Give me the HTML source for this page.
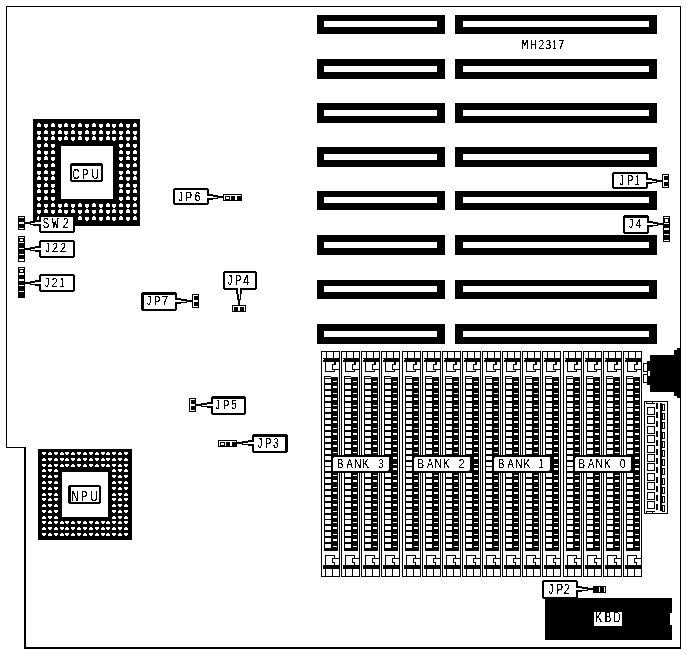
<!DOCTYPE html>
<html><head><meta charset="utf-8"><style>
html,body{margin:0;padding:0;background:#fff;}
body{width:686px;height:654px;overflow:hidden;}
svg{display:block;}
</style></head><body>
<svg width="686" height="654" viewBox="0 0 686 654" shape-rendering="crispEdges">
<defs><filter id="bin" x="-10%" y="-10%" width="120%" height="120%" color-interpolation-filters="sRGB"><feComponentTransfer><feFuncA type="discrete" tableValues="0 0 1 1 1"/></feComponentTransfer></filter></defs>
<rect width="686" height="654" fill="#fff"/>
<rect x="6" y="6" width="675" height="1" fill="#000"/>
<rect x="6" y="6" width="1" height="442" fill="#000"/>
<rect x="6" y="447" width="20" height="1" fill="#000"/>
<rect x="24" y="447" width="2" height="202" fill="#000"/>
<rect x="24" y="647" width="657" height="2" fill="#000"/>
<rect x="680" y="6" width="1" height="643" fill="#000"/>
<rect x="317" y="15" width="128" height="19" fill="#000"/>
<rect x="324" y="21" width="113" height="6" fill="#fff"/>
<rect x="455" y="15" width="202" height="19" fill="#000"/>
<rect x="463" y="21" width="186" height="6" fill="#fff"/>
<rect x="317" y="59" width="128" height="20" fill="#000"/>
<rect x="324" y="66" width="113" height="6" fill="#fff"/>
<rect x="455" y="59" width="202" height="20" fill="#000"/>
<rect x="463" y="66" width="186" height="6" fill="#fff"/>
<rect x="317" y="103" width="128" height="20" fill="#000"/>
<rect x="324" y="110" width="113" height="6" fill="#fff"/>
<rect x="455" y="103" width="202" height="20" fill="#000"/>
<rect x="463" y="110" width="186" height="6" fill="#fff"/>
<rect x="317" y="147" width="128" height="20" fill="#000"/>
<rect x="324" y="154" width="113" height="6" fill="#fff"/>
<rect x="455" y="147" width="202" height="20" fill="#000"/>
<rect x="463" y="154" width="186" height="6" fill="#fff"/>
<rect x="317" y="191" width="128" height="19" fill="#000"/>
<rect x="324" y="197" width="113" height="6" fill="#fff"/>
<rect x="455" y="191" width="202" height="19" fill="#000"/>
<rect x="463" y="197" width="186" height="6" fill="#fff"/>
<rect x="317" y="235" width="128" height="20" fill="#000"/>
<rect x="324" y="242" width="113" height="6" fill="#fff"/>
<rect x="455" y="235" width="202" height="20" fill="#000"/>
<rect x="463" y="242" width="186" height="6" fill="#fff"/>
<rect x="317" y="280" width="128" height="19" fill="#000"/>
<rect x="324" y="286" width="113" height="6" fill="#fff"/>
<rect x="455" y="280" width="202" height="19" fill="#000"/>
<rect x="463" y="286" width="186" height="6" fill="#fff"/>
<rect x="317" y="324" width="128" height="20" fill="#000"/>
<rect x="324" y="331" width="113" height="6" fill="#fff"/>
<rect x="455" y="324" width="202" height="20" fill="#000"/>
<rect x="463" y="331" width="186" height="6" fill="#fff"/>
<rect x="321" y="351" width="1" height="226" fill="#000"/>
<rect x="339" y="351" width="1" height="226" fill="#000"/>
<rect x="321" y="351" width="19" height="1" fill="#000"/>
<rect x="321" y="576" width="19" height="1" fill="#000"/>
<rect x="326" y="352" width="1" height="6" fill="#000"/>
<rect x="333" y="352" width="1" height="6" fill="#000"/>
<rect x="323" y="358" width="16" height="4" fill="#000"/>
<rect x="323" y="359" width="1" height="1" fill="#fff"/>
<rect x="325" y="362" width="1" height="10" fill="#000"/>
<rect x="325" y="371" width="10" height="1" fill="#000"/>
<rect x="334" y="362" width="2" height="3" fill="#000"/>
<rect x="332" y="364" width="4" height="1" fill="#000"/>
<rect x="332" y="364" width="1" height="6" fill="#000"/>
<rect x="332" y="369" width="7" height="1" fill="#000"/>
<rect x="334" y="369" width="1" height="3" fill="#000"/>
<rect x="325" y="555" width="1" height="10" fill="#000"/>
<rect x="325" y="555" width="10" height="1" fill="#000"/>
<rect x="334" y="555" width="1" height="3" fill="#000"/>
<rect x="332" y="558" width="7" height="1" fill="#000"/>
<rect x="332" y="558" width="1" height="5" fill="#000"/>
<rect x="332" y="562" width="3" height="1" fill="#000"/>
<rect x="334" y="562" width="1" height="3" fill="#000"/>
<rect x="323" y="565" width="16" height="4" fill="#000"/>
<rect x="325" y="569" width="1" height="7" fill="#000"/>
<rect x="332" y="569" width="1" height="7" fill="#000"/>
<rect x="324" y="376" width="14" height="175" fill="#000"/>
<rect x="325" y="377" width="6" height="1" fill="#fff"/>
<rect x="325" y="379" width="6" height="4" fill="#fff"/>
<rect x="333" y="381" width="4" height="1" fill="#fff"/>
<rect x="325" y="385" width="6" height="4" fill="#fff"/>
<rect x="333" y="386" width="4" height="2" fill="#fff"/>
<rect x="325" y="391" width="6" height="4" fill="#fff"/>
<rect x="333" y="393" width="4" height="1" fill="#fff"/>
<rect x="325" y="397" width="6" height="4" fill="#fff"/>
<rect x="333" y="398" width="4" height="2" fill="#fff"/>
<rect x="325" y="403" width="6" height="4" fill="#fff"/>
<rect x="333" y="405" width="4" height="1" fill="#fff"/>
<rect x="325" y="408" width="6" height="4" fill="#fff"/>
<rect x="333" y="409" width="4" height="2" fill="#fff"/>
<rect x="325" y="414" width="6" height="4" fill="#fff"/>
<rect x="333" y="416" width="4" height="1" fill="#fff"/>
<rect x="325" y="420" width="6" height="4" fill="#fff"/>
<rect x="333" y="421" width="4" height="2" fill="#fff"/>
<rect x="325" y="426" width="6" height="4" fill="#fff"/>
<rect x="333" y="428" width="4" height="1" fill="#fff"/>
<rect x="325" y="432" width="6" height="4" fill="#fff"/>
<rect x="333" y="433" width="4" height="2" fill="#fff"/>
<rect x="325" y="438" width="6" height="4" fill="#fff"/>
<rect x="333" y="440" width="4" height="1" fill="#fff"/>
<rect x="325" y="444" width="6" height="4" fill="#fff"/>
<rect x="333" y="445" width="4" height="2" fill="#fff"/>
<rect x="325" y="450" width="6" height="4" fill="#fff"/>
<rect x="333" y="452" width="4" height="1" fill="#fff"/>
<rect x="325" y="456" width="6" height="4" fill="#fff"/>
<rect x="333" y="457" width="4" height="2" fill="#fff"/>
<rect x="325" y="462" width="6" height="4" fill="#fff"/>
<rect x="333" y="464" width="4" height="1" fill="#fff"/>
<rect x="325" y="467" width="6" height="4" fill="#fff"/>
<rect x="333" y="468" width="4" height="2" fill="#fff"/>
<rect x="325" y="473" width="6" height="4" fill="#fff"/>
<rect x="333" y="475" width="4" height="1" fill="#fff"/>
<rect x="325" y="479" width="6" height="4" fill="#fff"/>
<rect x="333" y="480" width="4" height="2" fill="#fff"/>
<rect x="325" y="485" width="6" height="4" fill="#fff"/>
<rect x="333" y="487" width="4" height="1" fill="#fff"/>
<rect x="325" y="491" width="6" height="4" fill="#fff"/>
<rect x="333" y="492" width="4" height="2" fill="#fff"/>
<rect x="325" y="497" width="6" height="4" fill="#fff"/>
<rect x="333" y="499" width="4" height="1" fill="#fff"/>
<rect x="325" y="503" width="6" height="4" fill="#fff"/>
<rect x="333" y="504" width="4" height="2" fill="#fff"/>
<rect x="325" y="509" width="6" height="4" fill="#fff"/>
<rect x="333" y="511" width="4" height="1" fill="#fff"/>
<rect x="325" y="515" width="6" height="4" fill="#fff"/>
<rect x="333" y="516" width="4" height="2" fill="#fff"/>
<rect x="325" y="520" width="6" height="4" fill="#fff"/>
<rect x="333" y="522" width="4" height="1" fill="#fff"/>
<rect x="325" y="526" width="6" height="4" fill="#fff"/>
<rect x="333" y="527" width="4" height="2" fill="#fff"/>
<rect x="325" y="532" width="6" height="4" fill="#fff"/>
<rect x="333" y="534" width="4" height="1" fill="#fff"/>
<rect x="325" y="538" width="6" height="4" fill="#fff"/>
<rect x="333" y="539" width="4" height="2" fill="#fff"/>
<rect x="325" y="544" width="6" height="4" fill="#fff"/>
<rect x="333" y="546" width="4" height="1" fill="#fff"/>
<rect x="338" y="376" width="1" height="175" fill="#fff"/>
<rect x="331" y="376" width="7" height="1" fill="#fff"/>
<rect x="341" y="351" width="1" height="226" fill="#000"/>
<rect x="359" y="351" width="1" height="226" fill="#000"/>
<rect x="341" y="351" width="19" height="1" fill="#000"/>
<rect x="341" y="576" width="19" height="1" fill="#000"/>
<rect x="346" y="352" width="1" height="6" fill="#000"/>
<rect x="353" y="352" width="1" height="6" fill="#000"/>
<rect x="343" y="358" width="16" height="4" fill="#000"/>
<rect x="343" y="359" width="1" height="1" fill="#fff"/>
<rect x="345" y="362" width="1" height="10" fill="#000"/>
<rect x="345" y="371" width="10" height="1" fill="#000"/>
<rect x="354" y="362" width="2" height="3" fill="#000"/>
<rect x="352" y="364" width="4" height="1" fill="#000"/>
<rect x="352" y="364" width="1" height="6" fill="#000"/>
<rect x="352" y="369" width="7" height="1" fill="#000"/>
<rect x="354" y="369" width="1" height="3" fill="#000"/>
<rect x="345" y="555" width="1" height="10" fill="#000"/>
<rect x="345" y="555" width="10" height="1" fill="#000"/>
<rect x="354" y="555" width="1" height="3" fill="#000"/>
<rect x="352" y="558" width="7" height="1" fill="#000"/>
<rect x="352" y="558" width="1" height="5" fill="#000"/>
<rect x="352" y="562" width="3" height="1" fill="#000"/>
<rect x="354" y="562" width="1" height="3" fill="#000"/>
<rect x="343" y="565" width="16" height="4" fill="#000"/>
<rect x="345" y="569" width="1" height="7" fill="#000"/>
<rect x="352" y="569" width="1" height="7" fill="#000"/>
<rect x="344" y="376" width="14" height="175" fill="#000"/>
<rect x="345" y="377" width="6" height="1" fill="#fff"/>
<rect x="345" y="379" width="6" height="4" fill="#fff"/>
<rect x="353" y="381" width="4" height="1" fill="#fff"/>
<rect x="345" y="385" width="6" height="4" fill="#fff"/>
<rect x="353" y="386" width="4" height="2" fill="#fff"/>
<rect x="345" y="391" width="6" height="4" fill="#fff"/>
<rect x="353" y="393" width="4" height="1" fill="#fff"/>
<rect x="345" y="397" width="6" height="4" fill="#fff"/>
<rect x="353" y="398" width="4" height="2" fill="#fff"/>
<rect x="345" y="403" width="6" height="4" fill="#fff"/>
<rect x="353" y="405" width="4" height="1" fill="#fff"/>
<rect x="345" y="408" width="6" height="4" fill="#fff"/>
<rect x="353" y="409" width="4" height="2" fill="#fff"/>
<rect x="345" y="414" width="6" height="4" fill="#fff"/>
<rect x="353" y="416" width="4" height="1" fill="#fff"/>
<rect x="345" y="420" width="6" height="4" fill="#fff"/>
<rect x="353" y="421" width="4" height="2" fill="#fff"/>
<rect x="345" y="426" width="6" height="4" fill="#fff"/>
<rect x="353" y="428" width="4" height="1" fill="#fff"/>
<rect x="345" y="432" width="6" height="4" fill="#fff"/>
<rect x="353" y="433" width="4" height="2" fill="#fff"/>
<rect x="345" y="438" width="6" height="4" fill="#fff"/>
<rect x="353" y="440" width="4" height="1" fill="#fff"/>
<rect x="345" y="444" width="6" height="4" fill="#fff"/>
<rect x="353" y="445" width="4" height="2" fill="#fff"/>
<rect x="345" y="450" width="6" height="4" fill="#fff"/>
<rect x="353" y="452" width="4" height="1" fill="#fff"/>
<rect x="345" y="456" width="6" height="4" fill="#fff"/>
<rect x="353" y="457" width="4" height="2" fill="#fff"/>
<rect x="345" y="462" width="6" height="4" fill="#fff"/>
<rect x="353" y="464" width="4" height="1" fill="#fff"/>
<rect x="345" y="467" width="6" height="4" fill="#fff"/>
<rect x="353" y="468" width="4" height="2" fill="#fff"/>
<rect x="345" y="473" width="6" height="4" fill="#fff"/>
<rect x="353" y="475" width="4" height="1" fill="#fff"/>
<rect x="345" y="479" width="6" height="4" fill="#fff"/>
<rect x="353" y="480" width="4" height="2" fill="#fff"/>
<rect x="345" y="485" width="6" height="4" fill="#fff"/>
<rect x="353" y="487" width="4" height="1" fill="#fff"/>
<rect x="345" y="491" width="6" height="4" fill="#fff"/>
<rect x="353" y="492" width="4" height="2" fill="#fff"/>
<rect x="345" y="497" width="6" height="4" fill="#fff"/>
<rect x="353" y="499" width="4" height="1" fill="#fff"/>
<rect x="345" y="503" width="6" height="4" fill="#fff"/>
<rect x="353" y="504" width="4" height="2" fill="#fff"/>
<rect x="345" y="509" width="6" height="4" fill="#fff"/>
<rect x="353" y="511" width="4" height="1" fill="#fff"/>
<rect x="345" y="515" width="6" height="4" fill="#fff"/>
<rect x="353" y="516" width="4" height="2" fill="#fff"/>
<rect x="345" y="520" width="6" height="4" fill="#fff"/>
<rect x="353" y="522" width="4" height="1" fill="#fff"/>
<rect x="345" y="526" width="6" height="4" fill="#fff"/>
<rect x="353" y="527" width="4" height="2" fill="#fff"/>
<rect x="345" y="532" width="6" height="4" fill="#fff"/>
<rect x="353" y="534" width="4" height="1" fill="#fff"/>
<rect x="345" y="538" width="6" height="4" fill="#fff"/>
<rect x="353" y="539" width="4" height="2" fill="#fff"/>
<rect x="345" y="544" width="6" height="4" fill="#fff"/>
<rect x="353" y="546" width="4" height="1" fill="#fff"/>
<rect x="358" y="376" width="1" height="175" fill="#fff"/>
<rect x="351" y="376" width="7" height="1" fill="#fff"/>
<rect x="361" y="351" width="1" height="226" fill="#000"/>
<rect x="379" y="351" width="1" height="226" fill="#000"/>
<rect x="361" y="351" width="19" height="1" fill="#000"/>
<rect x="361" y="576" width="19" height="1" fill="#000"/>
<rect x="366" y="352" width="1" height="6" fill="#000"/>
<rect x="373" y="352" width="1" height="6" fill="#000"/>
<rect x="363" y="358" width="16" height="4" fill="#000"/>
<rect x="363" y="359" width="1" height="1" fill="#fff"/>
<rect x="365" y="362" width="1" height="10" fill="#000"/>
<rect x="365" y="371" width="10" height="1" fill="#000"/>
<rect x="374" y="362" width="2" height="3" fill="#000"/>
<rect x="372" y="364" width="4" height="1" fill="#000"/>
<rect x="372" y="364" width="1" height="6" fill="#000"/>
<rect x="372" y="369" width="7" height="1" fill="#000"/>
<rect x="374" y="369" width="1" height="3" fill="#000"/>
<rect x="365" y="555" width="1" height="10" fill="#000"/>
<rect x="365" y="555" width="10" height="1" fill="#000"/>
<rect x="374" y="555" width="1" height="3" fill="#000"/>
<rect x="372" y="558" width="7" height="1" fill="#000"/>
<rect x="372" y="558" width="1" height="5" fill="#000"/>
<rect x="372" y="562" width="3" height="1" fill="#000"/>
<rect x="374" y="562" width="1" height="3" fill="#000"/>
<rect x="363" y="565" width="16" height="4" fill="#000"/>
<rect x="365" y="569" width="1" height="7" fill="#000"/>
<rect x="372" y="569" width="1" height="7" fill="#000"/>
<rect x="364" y="376" width="14" height="175" fill="#000"/>
<rect x="365" y="377" width="6" height="1" fill="#fff"/>
<rect x="365" y="379" width="6" height="4" fill="#fff"/>
<rect x="373" y="381" width="4" height="1" fill="#fff"/>
<rect x="365" y="385" width="6" height="4" fill="#fff"/>
<rect x="373" y="386" width="4" height="2" fill="#fff"/>
<rect x="365" y="391" width="6" height="4" fill="#fff"/>
<rect x="373" y="393" width="4" height="1" fill="#fff"/>
<rect x="365" y="397" width="6" height="4" fill="#fff"/>
<rect x="373" y="398" width="4" height="2" fill="#fff"/>
<rect x="365" y="403" width="6" height="4" fill="#fff"/>
<rect x="373" y="405" width="4" height="1" fill="#fff"/>
<rect x="365" y="408" width="6" height="4" fill="#fff"/>
<rect x="373" y="409" width="4" height="2" fill="#fff"/>
<rect x="365" y="414" width="6" height="4" fill="#fff"/>
<rect x="373" y="416" width="4" height="1" fill="#fff"/>
<rect x="365" y="420" width="6" height="4" fill="#fff"/>
<rect x="373" y="421" width="4" height="2" fill="#fff"/>
<rect x="365" y="426" width="6" height="4" fill="#fff"/>
<rect x="373" y="428" width="4" height="1" fill="#fff"/>
<rect x="365" y="432" width="6" height="4" fill="#fff"/>
<rect x="373" y="433" width="4" height="2" fill="#fff"/>
<rect x="365" y="438" width="6" height="4" fill="#fff"/>
<rect x="373" y="440" width="4" height="1" fill="#fff"/>
<rect x="365" y="444" width="6" height="4" fill="#fff"/>
<rect x="373" y="445" width="4" height="2" fill="#fff"/>
<rect x="365" y="450" width="6" height="4" fill="#fff"/>
<rect x="373" y="452" width="4" height="1" fill="#fff"/>
<rect x="365" y="456" width="6" height="4" fill="#fff"/>
<rect x="373" y="457" width="4" height="2" fill="#fff"/>
<rect x="365" y="462" width="6" height="4" fill="#fff"/>
<rect x="373" y="464" width="4" height="1" fill="#fff"/>
<rect x="365" y="467" width="6" height="4" fill="#fff"/>
<rect x="373" y="468" width="4" height="2" fill="#fff"/>
<rect x="365" y="473" width="6" height="4" fill="#fff"/>
<rect x="373" y="475" width="4" height="1" fill="#fff"/>
<rect x="365" y="479" width="6" height="4" fill="#fff"/>
<rect x="373" y="480" width="4" height="2" fill="#fff"/>
<rect x="365" y="485" width="6" height="4" fill="#fff"/>
<rect x="373" y="487" width="4" height="1" fill="#fff"/>
<rect x="365" y="491" width="6" height="4" fill="#fff"/>
<rect x="373" y="492" width="4" height="2" fill="#fff"/>
<rect x="365" y="497" width="6" height="4" fill="#fff"/>
<rect x="373" y="499" width="4" height="1" fill="#fff"/>
<rect x="365" y="503" width="6" height="4" fill="#fff"/>
<rect x="373" y="504" width="4" height="2" fill="#fff"/>
<rect x="365" y="509" width="6" height="4" fill="#fff"/>
<rect x="373" y="511" width="4" height="1" fill="#fff"/>
<rect x="365" y="515" width="6" height="4" fill="#fff"/>
<rect x="373" y="516" width="4" height="2" fill="#fff"/>
<rect x="365" y="520" width="6" height="4" fill="#fff"/>
<rect x="373" y="522" width="4" height="1" fill="#fff"/>
<rect x="365" y="526" width="6" height="4" fill="#fff"/>
<rect x="373" y="527" width="4" height="2" fill="#fff"/>
<rect x="365" y="532" width="6" height="4" fill="#fff"/>
<rect x="373" y="534" width="4" height="1" fill="#fff"/>
<rect x="365" y="538" width="6" height="4" fill="#fff"/>
<rect x="373" y="539" width="4" height="2" fill="#fff"/>
<rect x="365" y="544" width="6" height="4" fill="#fff"/>
<rect x="373" y="546" width="4" height="1" fill="#fff"/>
<rect x="378" y="376" width="1" height="175" fill="#fff"/>
<rect x="371" y="376" width="7" height="1" fill="#fff"/>
<rect x="381" y="351" width="1" height="226" fill="#000"/>
<rect x="399" y="351" width="1" height="226" fill="#000"/>
<rect x="381" y="351" width="19" height="1" fill="#000"/>
<rect x="381" y="576" width="19" height="1" fill="#000"/>
<rect x="386" y="352" width="1" height="6" fill="#000"/>
<rect x="393" y="352" width="1" height="6" fill="#000"/>
<rect x="383" y="358" width="16" height="4" fill="#000"/>
<rect x="383" y="359" width="1" height="1" fill="#fff"/>
<rect x="385" y="362" width="1" height="10" fill="#000"/>
<rect x="385" y="371" width="10" height="1" fill="#000"/>
<rect x="394" y="362" width="2" height="3" fill="#000"/>
<rect x="392" y="364" width="4" height="1" fill="#000"/>
<rect x="392" y="364" width="1" height="6" fill="#000"/>
<rect x="392" y="369" width="7" height="1" fill="#000"/>
<rect x="394" y="369" width="1" height="3" fill="#000"/>
<rect x="385" y="555" width="1" height="10" fill="#000"/>
<rect x="385" y="555" width="10" height="1" fill="#000"/>
<rect x="394" y="555" width="1" height="3" fill="#000"/>
<rect x="392" y="558" width="7" height="1" fill="#000"/>
<rect x="392" y="558" width="1" height="5" fill="#000"/>
<rect x="392" y="562" width="3" height="1" fill="#000"/>
<rect x="394" y="562" width="1" height="3" fill="#000"/>
<rect x="383" y="565" width="16" height="4" fill="#000"/>
<rect x="385" y="569" width="1" height="7" fill="#000"/>
<rect x="392" y="569" width="1" height="7" fill="#000"/>
<rect x="384" y="376" width="14" height="175" fill="#000"/>
<rect x="385" y="377" width="6" height="1" fill="#fff"/>
<rect x="385" y="379" width="6" height="4" fill="#fff"/>
<rect x="393" y="381" width="4" height="1" fill="#fff"/>
<rect x="385" y="385" width="6" height="4" fill="#fff"/>
<rect x="393" y="386" width="4" height="2" fill="#fff"/>
<rect x="385" y="391" width="6" height="4" fill="#fff"/>
<rect x="393" y="393" width="4" height="1" fill="#fff"/>
<rect x="385" y="397" width="6" height="4" fill="#fff"/>
<rect x="393" y="398" width="4" height="2" fill="#fff"/>
<rect x="385" y="403" width="6" height="4" fill="#fff"/>
<rect x="393" y="405" width="4" height="1" fill="#fff"/>
<rect x="385" y="408" width="6" height="4" fill="#fff"/>
<rect x="393" y="409" width="4" height="2" fill="#fff"/>
<rect x="385" y="414" width="6" height="4" fill="#fff"/>
<rect x="393" y="416" width="4" height="1" fill="#fff"/>
<rect x="385" y="420" width="6" height="4" fill="#fff"/>
<rect x="393" y="421" width="4" height="2" fill="#fff"/>
<rect x="385" y="426" width="6" height="4" fill="#fff"/>
<rect x="393" y="428" width="4" height="1" fill="#fff"/>
<rect x="385" y="432" width="6" height="4" fill="#fff"/>
<rect x="393" y="433" width="4" height="2" fill="#fff"/>
<rect x="385" y="438" width="6" height="4" fill="#fff"/>
<rect x="393" y="440" width="4" height="1" fill="#fff"/>
<rect x="385" y="444" width="6" height="4" fill="#fff"/>
<rect x="393" y="445" width="4" height="2" fill="#fff"/>
<rect x="385" y="450" width="6" height="4" fill="#fff"/>
<rect x="393" y="452" width="4" height="1" fill="#fff"/>
<rect x="385" y="456" width="6" height="4" fill="#fff"/>
<rect x="393" y="457" width="4" height="2" fill="#fff"/>
<rect x="385" y="462" width="6" height="4" fill="#fff"/>
<rect x="393" y="464" width="4" height="1" fill="#fff"/>
<rect x="385" y="467" width="6" height="4" fill="#fff"/>
<rect x="393" y="468" width="4" height="2" fill="#fff"/>
<rect x="385" y="473" width="6" height="4" fill="#fff"/>
<rect x="393" y="475" width="4" height="1" fill="#fff"/>
<rect x="385" y="479" width="6" height="4" fill="#fff"/>
<rect x="393" y="480" width="4" height="2" fill="#fff"/>
<rect x="385" y="485" width="6" height="4" fill="#fff"/>
<rect x="393" y="487" width="4" height="1" fill="#fff"/>
<rect x="385" y="491" width="6" height="4" fill="#fff"/>
<rect x="393" y="492" width="4" height="2" fill="#fff"/>
<rect x="385" y="497" width="6" height="4" fill="#fff"/>
<rect x="393" y="499" width="4" height="1" fill="#fff"/>
<rect x="385" y="503" width="6" height="4" fill="#fff"/>
<rect x="393" y="504" width="4" height="2" fill="#fff"/>
<rect x="385" y="509" width="6" height="4" fill="#fff"/>
<rect x="393" y="511" width="4" height="1" fill="#fff"/>
<rect x="385" y="515" width="6" height="4" fill="#fff"/>
<rect x="393" y="516" width="4" height="2" fill="#fff"/>
<rect x="385" y="520" width="6" height="4" fill="#fff"/>
<rect x="393" y="522" width="4" height="1" fill="#fff"/>
<rect x="385" y="526" width="6" height="4" fill="#fff"/>
<rect x="393" y="527" width="4" height="2" fill="#fff"/>
<rect x="385" y="532" width="6" height="4" fill="#fff"/>
<rect x="393" y="534" width="4" height="1" fill="#fff"/>
<rect x="385" y="538" width="6" height="4" fill="#fff"/>
<rect x="393" y="539" width="4" height="2" fill="#fff"/>
<rect x="385" y="544" width="6" height="4" fill="#fff"/>
<rect x="393" y="546" width="4" height="1" fill="#fff"/>
<rect x="398" y="376" width="1" height="175" fill="#fff"/>
<rect x="391" y="376" width="7" height="1" fill="#fff"/>
<rect x="402" y="351" width="1" height="226" fill="#000"/>
<rect x="420" y="351" width="1" height="226" fill="#000"/>
<rect x="402" y="351" width="19" height="1" fill="#000"/>
<rect x="402" y="576" width="19" height="1" fill="#000"/>
<rect x="407" y="352" width="1" height="6" fill="#000"/>
<rect x="414" y="352" width="1" height="6" fill="#000"/>
<rect x="404" y="358" width="16" height="4" fill="#000"/>
<rect x="404" y="359" width="1" height="1" fill="#fff"/>
<rect x="406" y="362" width="1" height="10" fill="#000"/>
<rect x="406" y="371" width="10" height="1" fill="#000"/>
<rect x="415" y="362" width="2" height="3" fill="#000"/>
<rect x="413" y="364" width="4" height="1" fill="#000"/>
<rect x="413" y="364" width="1" height="6" fill="#000"/>
<rect x="413" y="369" width="7" height="1" fill="#000"/>
<rect x="415" y="369" width="1" height="3" fill="#000"/>
<rect x="406" y="555" width="1" height="10" fill="#000"/>
<rect x="406" y="555" width="10" height="1" fill="#000"/>
<rect x="415" y="555" width="1" height="3" fill="#000"/>
<rect x="413" y="558" width="7" height="1" fill="#000"/>
<rect x="413" y="558" width="1" height="5" fill="#000"/>
<rect x="413" y="562" width="3" height="1" fill="#000"/>
<rect x="415" y="562" width="1" height="3" fill="#000"/>
<rect x="404" y="565" width="16" height="4" fill="#000"/>
<rect x="406" y="569" width="1" height="7" fill="#000"/>
<rect x="413" y="569" width="1" height="7" fill="#000"/>
<rect x="405" y="376" width="14" height="175" fill="#000"/>
<rect x="406" y="377" width="6" height="1" fill="#fff"/>
<rect x="406" y="379" width="6" height="4" fill="#fff"/>
<rect x="414" y="381" width="4" height="1" fill="#fff"/>
<rect x="406" y="385" width="6" height="4" fill="#fff"/>
<rect x="414" y="386" width="4" height="2" fill="#fff"/>
<rect x="406" y="391" width="6" height="4" fill="#fff"/>
<rect x="414" y="393" width="4" height="1" fill="#fff"/>
<rect x="406" y="397" width="6" height="4" fill="#fff"/>
<rect x="414" y="398" width="4" height="2" fill="#fff"/>
<rect x="406" y="403" width="6" height="4" fill="#fff"/>
<rect x="414" y="405" width="4" height="1" fill="#fff"/>
<rect x="406" y="408" width="6" height="4" fill="#fff"/>
<rect x="414" y="409" width="4" height="2" fill="#fff"/>
<rect x="406" y="414" width="6" height="4" fill="#fff"/>
<rect x="414" y="416" width="4" height="1" fill="#fff"/>
<rect x="406" y="420" width="6" height="4" fill="#fff"/>
<rect x="414" y="421" width="4" height="2" fill="#fff"/>
<rect x="406" y="426" width="6" height="4" fill="#fff"/>
<rect x="414" y="428" width="4" height="1" fill="#fff"/>
<rect x="406" y="432" width="6" height="4" fill="#fff"/>
<rect x="414" y="433" width="4" height="2" fill="#fff"/>
<rect x="406" y="438" width="6" height="4" fill="#fff"/>
<rect x="414" y="440" width="4" height="1" fill="#fff"/>
<rect x="406" y="444" width="6" height="4" fill="#fff"/>
<rect x="414" y="445" width="4" height="2" fill="#fff"/>
<rect x="406" y="450" width="6" height="4" fill="#fff"/>
<rect x="414" y="452" width="4" height="1" fill="#fff"/>
<rect x="406" y="456" width="6" height="4" fill="#fff"/>
<rect x="414" y="457" width="4" height="2" fill="#fff"/>
<rect x="406" y="462" width="6" height="4" fill="#fff"/>
<rect x="414" y="464" width="4" height="1" fill="#fff"/>
<rect x="406" y="467" width="6" height="4" fill="#fff"/>
<rect x="414" y="468" width="4" height="2" fill="#fff"/>
<rect x="406" y="473" width="6" height="4" fill="#fff"/>
<rect x="414" y="475" width="4" height="1" fill="#fff"/>
<rect x="406" y="479" width="6" height="4" fill="#fff"/>
<rect x="414" y="480" width="4" height="2" fill="#fff"/>
<rect x="406" y="485" width="6" height="4" fill="#fff"/>
<rect x="414" y="487" width="4" height="1" fill="#fff"/>
<rect x="406" y="491" width="6" height="4" fill="#fff"/>
<rect x="414" y="492" width="4" height="2" fill="#fff"/>
<rect x="406" y="497" width="6" height="4" fill="#fff"/>
<rect x="414" y="499" width="4" height="1" fill="#fff"/>
<rect x="406" y="503" width="6" height="4" fill="#fff"/>
<rect x="414" y="504" width="4" height="2" fill="#fff"/>
<rect x="406" y="509" width="6" height="4" fill="#fff"/>
<rect x="414" y="511" width="4" height="1" fill="#fff"/>
<rect x="406" y="515" width="6" height="4" fill="#fff"/>
<rect x="414" y="516" width="4" height="2" fill="#fff"/>
<rect x="406" y="520" width="6" height="4" fill="#fff"/>
<rect x="414" y="522" width="4" height="1" fill="#fff"/>
<rect x="406" y="526" width="6" height="4" fill="#fff"/>
<rect x="414" y="527" width="4" height="2" fill="#fff"/>
<rect x="406" y="532" width="6" height="4" fill="#fff"/>
<rect x="414" y="534" width="4" height="1" fill="#fff"/>
<rect x="406" y="538" width="6" height="4" fill="#fff"/>
<rect x="414" y="539" width="4" height="2" fill="#fff"/>
<rect x="406" y="544" width="6" height="4" fill="#fff"/>
<rect x="414" y="546" width="4" height="1" fill="#fff"/>
<rect x="419" y="376" width="1" height="175" fill="#fff"/>
<rect x="412" y="376" width="7" height="1" fill="#fff"/>
<rect x="422" y="351" width="1" height="226" fill="#000"/>
<rect x="440" y="351" width="1" height="226" fill="#000"/>
<rect x="422" y="351" width="19" height="1" fill="#000"/>
<rect x="422" y="576" width="19" height="1" fill="#000"/>
<rect x="427" y="352" width="1" height="6" fill="#000"/>
<rect x="434" y="352" width="1" height="6" fill="#000"/>
<rect x="424" y="358" width="16" height="4" fill="#000"/>
<rect x="424" y="359" width="1" height="1" fill="#fff"/>
<rect x="426" y="362" width="1" height="10" fill="#000"/>
<rect x="426" y="371" width="10" height="1" fill="#000"/>
<rect x="435" y="362" width="2" height="3" fill="#000"/>
<rect x="433" y="364" width="4" height="1" fill="#000"/>
<rect x="433" y="364" width="1" height="6" fill="#000"/>
<rect x="433" y="369" width="7" height="1" fill="#000"/>
<rect x="435" y="369" width="1" height="3" fill="#000"/>
<rect x="426" y="555" width="1" height="10" fill="#000"/>
<rect x="426" y="555" width="10" height="1" fill="#000"/>
<rect x="435" y="555" width="1" height="3" fill="#000"/>
<rect x="433" y="558" width="7" height="1" fill="#000"/>
<rect x="433" y="558" width="1" height="5" fill="#000"/>
<rect x="433" y="562" width="3" height="1" fill="#000"/>
<rect x="435" y="562" width="1" height="3" fill="#000"/>
<rect x="424" y="565" width="16" height="4" fill="#000"/>
<rect x="426" y="569" width="1" height="7" fill="#000"/>
<rect x="433" y="569" width="1" height="7" fill="#000"/>
<rect x="425" y="376" width="14" height="175" fill="#000"/>
<rect x="426" y="377" width="6" height="1" fill="#fff"/>
<rect x="426" y="379" width="6" height="4" fill="#fff"/>
<rect x="434" y="381" width="4" height="1" fill="#fff"/>
<rect x="426" y="385" width="6" height="4" fill="#fff"/>
<rect x="434" y="386" width="4" height="2" fill="#fff"/>
<rect x="426" y="391" width="6" height="4" fill="#fff"/>
<rect x="434" y="393" width="4" height="1" fill="#fff"/>
<rect x="426" y="397" width="6" height="4" fill="#fff"/>
<rect x="434" y="398" width="4" height="2" fill="#fff"/>
<rect x="426" y="403" width="6" height="4" fill="#fff"/>
<rect x="434" y="405" width="4" height="1" fill="#fff"/>
<rect x="426" y="408" width="6" height="4" fill="#fff"/>
<rect x="434" y="409" width="4" height="2" fill="#fff"/>
<rect x="426" y="414" width="6" height="4" fill="#fff"/>
<rect x="434" y="416" width="4" height="1" fill="#fff"/>
<rect x="426" y="420" width="6" height="4" fill="#fff"/>
<rect x="434" y="421" width="4" height="2" fill="#fff"/>
<rect x="426" y="426" width="6" height="4" fill="#fff"/>
<rect x="434" y="428" width="4" height="1" fill="#fff"/>
<rect x="426" y="432" width="6" height="4" fill="#fff"/>
<rect x="434" y="433" width="4" height="2" fill="#fff"/>
<rect x="426" y="438" width="6" height="4" fill="#fff"/>
<rect x="434" y="440" width="4" height="1" fill="#fff"/>
<rect x="426" y="444" width="6" height="4" fill="#fff"/>
<rect x="434" y="445" width="4" height="2" fill="#fff"/>
<rect x="426" y="450" width="6" height="4" fill="#fff"/>
<rect x="434" y="452" width="4" height="1" fill="#fff"/>
<rect x="426" y="456" width="6" height="4" fill="#fff"/>
<rect x="434" y="457" width="4" height="2" fill="#fff"/>
<rect x="426" y="462" width="6" height="4" fill="#fff"/>
<rect x="434" y="464" width="4" height="1" fill="#fff"/>
<rect x="426" y="467" width="6" height="4" fill="#fff"/>
<rect x="434" y="468" width="4" height="2" fill="#fff"/>
<rect x="426" y="473" width="6" height="4" fill="#fff"/>
<rect x="434" y="475" width="4" height="1" fill="#fff"/>
<rect x="426" y="479" width="6" height="4" fill="#fff"/>
<rect x="434" y="480" width="4" height="2" fill="#fff"/>
<rect x="426" y="485" width="6" height="4" fill="#fff"/>
<rect x="434" y="487" width="4" height="1" fill="#fff"/>
<rect x="426" y="491" width="6" height="4" fill="#fff"/>
<rect x="434" y="492" width="4" height="2" fill="#fff"/>
<rect x="426" y="497" width="6" height="4" fill="#fff"/>
<rect x="434" y="499" width="4" height="1" fill="#fff"/>
<rect x="426" y="503" width="6" height="4" fill="#fff"/>
<rect x="434" y="504" width="4" height="2" fill="#fff"/>
<rect x="426" y="509" width="6" height="4" fill="#fff"/>
<rect x="434" y="511" width="4" height="1" fill="#fff"/>
<rect x="426" y="515" width="6" height="4" fill="#fff"/>
<rect x="434" y="516" width="4" height="2" fill="#fff"/>
<rect x="426" y="520" width="6" height="4" fill="#fff"/>
<rect x="434" y="522" width="4" height="1" fill="#fff"/>
<rect x="426" y="526" width="6" height="4" fill="#fff"/>
<rect x="434" y="527" width="4" height="2" fill="#fff"/>
<rect x="426" y="532" width="6" height="4" fill="#fff"/>
<rect x="434" y="534" width="4" height="1" fill="#fff"/>
<rect x="426" y="538" width="6" height="4" fill="#fff"/>
<rect x="434" y="539" width="4" height="2" fill="#fff"/>
<rect x="426" y="544" width="6" height="4" fill="#fff"/>
<rect x="434" y="546" width="4" height="1" fill="#fff"/>
<rect x="439" y="376" width="1" height="175" fill="#fff"/>
<rect x="432" y="376" width="7" height="1" fill="#fff"/>
<rect x="442" y="351" width="1" height="226" fill="#000"/>
<rect x="460" y="351" width="1" height="226" fill="#000"/>
<rect x="442" y="351" width="19" height="1" fill="#000"/>
<rect x="442" y="576" width="19" height="1" fill="#000"/>
<rect x="447" y="352" width="1" height="6" fill="#000"/>
<rect x="454" y="352" width="1" height="6" fill="#000"/>
<rect x="444" y="358" width="16" height="4" fill="#000"/>
<rect x="444" y="359" width="1" height="1" fill="#fff"/>
<rect x="446" y="362" width="1" height="10" fill="#000"/>
<rect x="446" y="371" width="10" height="1" fill="#000"/>
<rect x="455" y="362" width="2" height="3" fill="#000"/>
<rect x="453" y="364" width="4" height="1" fill="#000"/>
<rect x="453" y="364" width="1" height="6" fill="#000"/>
<rect x="453" y="369" width="7" height="1" fill="#000"/>
<rect x="455" y="369" width="1" height="3" fill="#000"/>
<rect x="446" y="555" width="1" height="10" fill="#000"/>
<rect x="446" y="555" width="10" height="1" fill="#000"/>
<rect x="455" y="555" width="1" height="3" fill="#000"/>
<rect x="453" y="558" width="7" height="1" fill="#000"/>
<rect x="453" y="558" width="1" height="5" fill="#000"/>
<rect x="453" y="562" width="3" height="1" fill="#000"/>
<rect x="455" y="562" width="1" height="3" fill="#000"/>
<rect x="444" y="565" width="16" height="4" fill="#000"/>
<rect x="446" y="569" width="1" height="7" fill="#000"/>
<rect x="453" y="569" width="1" height="7" fill="#000"/>
<rect x="445" y="376" width="14" height="175" fill="#000"/>
<rect x="446" y="377" width="6" height="1" fill="#fff"/>
<rect x="446" y="379" width="6" height="4" fill="#fff"/>
<rect x="454" y="381" width="4" height="1" fill="#fff"/>
<rect x="446" y="385" width="6" height="4" fill="#fff"/>
<rect x="454" y="386" width="4" height="2" fill="#fff"/>
<rect x="446" y="391" width="6" height="4" fill="#fff"/>
<rect x="454" y="393" width="4" height="1" fill="#fff"/>
<rect x="446" y="397" width="6" height="4" fill="#fff"/>
<rect x="454" y="398" width="4" height="2" fill="#fff"/>
<rect x="446" y="403" width="6" height="4" fill="#fff"/>
<rect x="454" y="405" width="4" height="1" fill="#fff"/>
<rect x="446" y="408" width="6" height="4" fill="#fff"/>
<rect x="454" y="409" width="4" height="2" fill="#fff"/>
<rect x="446" y="414" width="6" height="4" fill="#fff"/>
<rect x="454" y="416" width="4" height="1" fill="#fff"/>
<rect x="446" y="420" width="6" height="4" fill="#fff"/>
<rect x="454" y="421" width="4" height="2" fill="#fff"/>
<rect x="446" y="426" width="6" height="4" fill="#fff"/>
<rect x="454" y="428" width="4" height="1" fill="#fff"/>
<rect x="446" y="432" width="6" height="4" fill="#fff"/>
<rect x="454" y="433" width="4" height="2" fill="#fff"/>
<rect x="446" y="438" width="6" height="4" fill="#fff"/>
<rect x="454" y="440" width="4" height="1" fill="#fff"/>
<rect x="446" y="444" width="6" height="4" fill="#fff"/>
<rect x="454" y="445" width="4" height="2" fill="#fff"/>
<rect x="446" y="450" width="6" height="4" fill="#fff"/>
<rect x="454" y="452" width="4" height="1" fill="#fff"/>
<rect x="446" y="456" width="6" height="4" fill="#fff"/>
<rect x="454" y="457" width="4" height="2" fill="#fff"/>
<rect x="446" y="462" width="6" height="4" fill="#fff"/>
<rect x="454" y="464" width="4" height="1" fill="#fff"/>
<rect x="446" y="467" width="6" height="4" fill="#fff"/>
<rect x="454" y="468" width="4" height="2" fill="#fff"/>
<rect x="446" y="473" width="6" height="4" fill="#fff"/>
<rect x="454" y="475" width="4" height="1" fill="#fff"/>
<rect x="446" y="479" width="6" height="4" fill="#fff"/>
<rect x="454" y="480" width="4" height="2" fill="#fff"/>
<rect x="446" y="485" width="6" height="4" fill="#fff"/>
<rect x="454" y="487" width="4" height="1" fill="#fff"/>
<rect x="446" y="491" width="6" height="4" fill="#fff"/>
<rect x="454" y="492" width="4" height="2" fill="#fff"/>
<rect x="446" y="497" width="6" height="4" fill="#fff"/>
<rect x="454" y="499" width="4" height="1" fill="#fff"/>
<rect x="446" y="503" width="6" height="4" fill="#fff"/>
<rect x="454" y="504" width="4" height="2" fill="#fff"/>
<rect x="446" y="509" width="6" height="4" fill="#fff"/>
<rect x="454" y="511" width="4" height="1" fill="#fff"/>
<rect x="446" y="515" width="6" height="4" fill="#fff"/>
<rect x="454" y="516" width="4" height="2" fill="#fff"/>
<rect x="446" y="520" width="6" height="4" fill="#fff"/>
<rect x="454" y="522" width="4" height="1" fill="#fff"/>
<rect x="446" y="526" width="6" height="4" fill="#fff"/>
<rect x="454" y="527" width="4" height="2" fill="#fff"/>
<rect x="446" y="532" width="6" height="4" fill="#fff"/>
<rect x="454" y="534" width="4" height="1" fill="#fff"/>
<rect x="446" y="538" width="6" height="4" fill="#fff"/>
<rect x="454" y="539" width="4" height="2" fill="#fff"/>
<rect x="446" y="544" width="6" height="4" fill="#fff"/>
<rect x="454" y="546" width="4" height="1" fill="#fff"/>
<rect x="459" y="376" width="1" height="175" fill="#fff"/>
<rect x="452" y="376" width="7" height="1" fill="#fff"/>
<rect x="462" y="351" width="1" height="226" fill="#000"/>
<rect x="480" y="351" width="1" height="226" fill="#000"/>
<rect x="462" y="351" width="19" height="1" fill="#000"/>
<rect x="462" y="576" width="19" height="1" fill="#000"/>
<rect x="467" y="352" width="1" height="6" fill="#000"/>
<rect x="474" y="352" width="1" height="6" fill="#000"/>
<rect x="464" y="358" width="16" height="4" fill="#000"/>
<rect x="464" y="359" width="1" height="1" fill="#fff"/>
<rect x="466" y="362" width="1" height="10" fill="#000"/>
<rect x="466" y="371" width="10" height="1" fill="#000"/>
<rect x="475" y="362" width="2" height="3" fill="#000"/>
<rect x="473" y="364" width="4" height="1" fill="#000"/>
<rect x="473" y="364" width="1" height="6" fill="#000"/>
<rect x="473" y="369" width="7" height="1" fill="#000"/>
<rect x="475" y="369" width="1" height="3" fill="#000"/>
<rect x="466" y="555" width="1" height="10" fill="#000"/>
<rect x="466" y="555" width="10" height="1" fill="#000"/>
<rect x="475" y="555" width="1" height="3" fill="#000"/>
<rect x="473" y="558" width="7" height="1" fill="#000"/>
<rect x="473" y="558" width="1" height="5" fill="#000"/>
<rect x="473" y="562" width="3" height="1" fill="#000"/>
<rect x="475" y="562" width="1" height="3" fill="#000"/>
<rect x="464" y="565" width="16" height="4" fill="#000"/>
<rect x="466" y="569" width="1" height="7" fill="#000"/>
<rect x="473" y="569" width="1" height="7" fill="#000"/>
<rect x="465" y="376" width="14" height="175" fill="#000"/>
<rect x="466" y="377" width="6" height="1" fill="#fff"/>
<rect x="466" y="379" width="6" height="4" fill="#fff"/>
<rect x="474" y="381" width="4" height="1" fill="#fff"/>
<rect x="466" y="385" width="6" height="4" fill="#fff"/>
<rect x="474" y="386" width="4" height="2" fill="#fff"/>
<rect x="466" y="391" width="6" height="4" fill="#fff"/>
<rect x="474" y="393" width="4" height="1" fill="#fff"/>
<rect x="466" y="397" width="6" height="4" fill="#fff"/>
<rect x="474" y="398" width="4" height="2" fill="#fff"/>
<rect x="466" y="403" width="6" height="4" fill="#fff"/>
<rect x="474" y="405" width="4" height="1" fill="#fff"/>
<rect x="466" y="408" width="6" height="4" fill="#fff"/>
<rect x="474" y="409" width="4" height="2" fill="#fff"/>
<rect x="466" y="414" width="6" height="4" fill="#fff"/>
<rect x="474" y="416" width="4" height="1" fill="#fff"/>
<rect x="466" y="420" width="6" height="4" fill="#fff"/>
<rect x="474" y="421" width="4" height="2" fill="#fff"/>
<rect x="466" y="426" width="6" height="4" fill="#fff"/>
<rect x="474" y="428" width="4" height="1" fill="#fff"/>
<rect x="466" y="432" width="6" height="4" fill="#fff"/>
<rect x="474" y="433" width="4" height="2" fill="#fff"/>
<rect x="466" y="438" width="6" height="4" fill="#fff"/>
<rect x="474" y="440" width="4" height="1" fill="#fff"/>
<rect x="466" y="444" width="6" height="4" fill="#fff"/>
<rect x="474" y="445" width="4" height="2" fill="#fff"/>
<rect x="466" y="450" width="6" height="4" fill="#fff"/>
<rect x="474" y="452" width="4" height="1" fill="#fff"/>
<rect x="466" y="456" width="6" height="4" fill="#fff"/>
<rect x="474" y="457" width="4" height="2" fill="#fff"/>
<rect x="466" y="462" width="6" height="4" fill="#fff"/>
<rect x="474" y="464" width="4" height="1" fill="#fff"/>
<rect x="466" y="467" width="6" height="4" fill="#fff"/>
<rect x="474" y="468" width="4" height="2" fill="#fff"/>
<rect x="466" y="473" width="6" height="4" fill="#fff"/>
<rect x="474" y="475" width="4" height="1" fill="#fff"/>
<rect x="466" y="479" width="6" height="4" fill="#fff"/>
<rect x="474" y="480" width="4" height="2" fill="#fff"/>
<rect x="466" y="485" width="6" height="4" fill="#fff"/>
<rect x="474" y="487" width="4" height="1" fill="#fff"/>
<rect x="466" y="491" width="6" height="4" fill="#fff"/>
<rect x="474" y="492" width="4" height="2" fill="#fff"/>
<rect x="466" y="497" width="6" height="4" fill="#fff"/>
<rect x="474" y="499" width="4" height="1" fill="#fff"/>
<rect x="466" y="503" width="6" height="4" fill="#fff"/>
<rect x="474" y="504" width="4" height="2" fill="#fff"/>
<rect x="466" y="509" width="6" height="4" fill="#fff"/>
<rect x="474" y="511" width="4" height="1" fill="#fff"/>
<rect x="466" y="515" width="6" height="4" fill="#fff"/>
<rect x="474" y="516" width="4" height="2" fill="#fff"/>
<rect x="466" y="520" width="6" height="4" fill="#fff"/>
<rect x="474" y="522" width="4" height="1" fill="#fff"/>
<rect x="466" y="526" width="6" height="4" fill="#fff"/>
<rect x="474" y="527" width="4" height="2" fill="#fff"/>
<rect x="466" y="532" width="6" height="4" fill="#fff"/>
<rect x="474" y="534" width="4" height="1" fill="#fff"/>
<rect x="466" y="538" width="6" height="4" fill="#fff"/>
<rect x="474" y="539" width="4" height="2" fill="#fff"/>
<rect x="466" y="544" width="6" height="4" fill="#fff"/>
<rect x="474" y="546" width="4" height="1" fill="#fff"/>
<rect x="479" y="376" width="1" height="175" fill="#fff"/>
<rect x="472" y="376" width="7" height="1" fill="#fff"/>
<rect x="482" y="351" width="1" height="226" fill="#000"/>
<rect x="500" y="351" width="1" height="226" fill="#000"/>
<rect x="482" y="351" width="19" height="1" fill="#000"/>
<rect x="482" y="576" width="19" height="1" fill="#000"/>
<rect x="487" y="352" width="1" height="6" fill="#000"/>
<rect x="494" y="352" width="1" height="6" fill="#000"/>
<rect x="484" y="358" width="16" height="4" fill="#000"/>
<rect x="484" y="359" width="1" height="1" fill="#fff"/>
<rect x="486" y="362" width="1" height="10" fill="#000"/>
<rect x="486" y="371" width="10" height="1" fill="#000"/>
<rect x="495" y="362" width="2" height="3" fill="#000"/>
<rect x="493" y="364" width="4" height="1" fill="#000"/>
<rect x="493" y="364" width="1" height="6" fill="#000"/>
<rect x="493" y="369" width="7" height="1" fill="#000"/>
<rect x="495" y="369" width="1" height="3" fill="#000"/>
<rect x="486" y="555" width="1" height="10" fill="#000"/>
<rect x="486" y="555" width="10" height="1" fill="#000"/>
<rect x="495" y="555" width="1" height="3" fill="#000"/>
<rect x="493" y="558" width="7" height="1" fill="#000"/>
<rect x="493" y="558" width="1" height="5" fill="#000"/>
<rect x="493" y="562" width="3" height="1" fill="#000"/>
<rect x="495" y="562" width="1" height="3" fill="#000"/>
<rect x="484" y="565" width="16" height="4" fill="#000"/>
<rect x="486" y="569" width="1" height="7" fill="#000"/>
<rect x="493" y="569" width="1" height="7" fill="#000"/>
<rect x="485" y="376" width="14" height="175" fill="#000"/>
<rect x="486" y="377" width="6" height="1" fill="#fff"/>
<rect x="486" y="379" width="6" height="4" fill="#fff"/>
<rect x="494" y="381" width="4" height="1" fill="#fff"/>
<rect x="486" y="385" width="6" height="4" fill="#fff"/>
<rect x="494" y="386" width="4" height="2" fill="#fff"/>
<rect x="486" y="391" width="6" height="4" fill="#fff"/>
<rect x="494" y="393" width="4" height="1" fill="#fff"/>
<rect x="486" y="397" width="6" height="4" fill="#fff"/>
<rect x="494" y="398" width="4" height="2" fill="#fff"/>
<rect x="486" y="403" width="6" height="4" fill="#fff"/>
<rect x="494" y="405" width="4" height="1" fill="#fff"/>
<rect x="486" y="408" width="6" height="4" fill="#fff"/>
<rect x="494" y="409" width="4" height="2" fill="#fff"/>
<rect x="486" y="414" width="6" height="4" fill="#fff"/>
<rect x="494" y="416" width="4" height="1" fill="#fff"/>
<rect x="486" y="420" width="6" height="4" fill="#fff"/>
<rect x="494" y="421" width="4" height="2" fill="#fff"/>
<rect x="486" y="426" width="6" height="4" fill="#fff"/>
<rect x="494" y="428" width="4" height="1" fill="#fff"/>
<rect x="486" y="432" width="6" height="4" fill="#fff"/>
<rect x="494" y="433" width="4" height="2" fill="#fff"/>
<rect x="486" y="438" width="6" height="4" fill="#fff"/>
<rect x="494" y="440" width="4" height="1" fill="#fff"/>
<rect x="486" y="444" width="6" height="4" fill="#fff"/>
<rect x="494" y="445" width="4" height="2" fill="#fff"/>
<rect x="486" y="450" width="6" height="4" fill="#fff"/>
<rect x="494" y="452" width="4" height="1" fill="#fff"/>
<rect x="486" y="456" width="6" height="4" fill="#fff"/>
<rect x="494" y="457" width="4" height="2" fill="#fff"/>
<rect x="486" y="462" width="6" height="4" fill="#fff"/>
<rect x="494" y="464" width="4" height="1" fill="#fff"/>
<rect x="486" y="467" width="6" height="4" fill="#fff"/>
<rect x="494" y="468" width="4" height="2" fill="#fff"/>
<rect x="486" y="473" width="6" height="4" fill="#fff"/>
<rect x="494" y="475" width="4" height="1" fill="#fff"/>
<rect x="486" y="479" width="6" height="4" fill="#fff"/>
<rect x="494" y="480" width="4" height="2" fill="#fff"/>
<rect x="486" y="485" width="6" height="4" fill="#fff"/>
<rect x="494" y="487" width="4" height="1" fill="#fff"/>
<rect x="486" y="491" width="6" height="4" fill="#fff"/>
<rect x="494" y="492" width="4" height="2" fill="#fff"/>
<rect x="486" y="497" width="6" height="4" fill="#fff"/>
<rect x="494" y="499" width="4" height="1" fill="#fff"/>
<rect x="486" y="503" width="6" height="4" fill="#fff"/>
<rect x="494" y="504" width="4" height="2" fill="#fff"/>
<rect x="486" y="509" width="6" height="4" fill="#fff"/>
<rect x="494" y="511" width="4" height="1" fill="#fff"/>
<rect x="486" y="515" width="6" height="4" fill="#fff"/>
<rect x="494" y="516" width="4" height="2" fill="#fff"/>
<rect x="486" y="520" width="6" height="4" fill="#fff"/>
<rect x="494" y="522" width="4" height="1" fill="#fff"/>
<rect x="486" y="526" width="6" height="4" fill="#fff"/>
<rect x="494" y="527" width="4" height="2" fill="#fff"/>
<rect x="486" y="532" width="6" height="4" fill="#fff"/>
<rect x="494" y="534" width="4" height="1" fill="#fff"/>
<rect x="486" y="538" width="6" height="4" fill="#fff"/>
<rect x="494" y="539" width="4" height="2" fill="#fff"/>
<rect x="486" y="544" width="6" height="4" fill="#fff"/>
<rect x="494" y="546" width="4" height="1" fill="#fff"/>
<rect x="499" y="376" width="1" height="175" fill="#fff"/>
<rect x="492" y="376" width="7" height="1" fill="#fff"/>
<rect x="502" y="351" width="1" height="226" fill="#000"/>
<rect x="520" y="351" width="1" height="226" fill="#000"/>
<rect x="502" y="351" width="19" height="1" fill="#000"/>
<rect x="502" y="576" width="19" height="1" fill="#000"/>
<rect x="507" y="352" width="1" height="6" fill="#000"/>
<rect x="514" y="352" width="1" height="6" fill="#000"/>
<rect x="504" y="358" width="16" height="4" fill="#000"/>
<rect x="504" y="359" width="1" height="1" fill="#fff"/>
<rect x="506" y="362" width="1" height="10" fill="#000"/>
<rect x="506" y="371" width="10" height="1" fill="#000"/>
<rect x="515" y="362" width="2" height="3" fill="#000"/>
<rect x="513" y="364" width="4" height="1" fill="#000"/>
<rect x="513" y="364" width="1" height="6" fill="#000"/>
<rect x="513" y="369" width="7" height="1" fill="#000"/>
<rect x="515" y="369" width="1" height="3" fill="#000"/>
<rect x="506" y="555" width="1" height="10" fill="#000"/>
<rect x="506" y="555" width="10" height="1" fill="#000"/>
<rect x="515" y="555" width="1" height="3" fill="#000"/>
<rect x="513" y="558" width="7" height="1" fill="#000"/>
<rect x="513" y="558" width="1" height="5" fill="#000"/>
<rect x="513" y="562" width="3" height="1" fill="#000"/>
<rect x="515" y="562" width="1" height="3" fill="#000"/>
<rect x="504" y="565" width="16" height="4" fill="#000"/>
<rect x="506" y="569" width="1" height="7" fill="#000"/>
<rect x="513" y="569" width="1" height="7" fill="#000"/>
<rect x="505" y="376" width="14" height="175" fill="#000"/>
<rect x="506" y="377" width="6" height="1" fill="#fff"/>
<rect x="506" y="379" width="6" height="4" fill="#fff"/>
<rect x="514" y="381" width="4" height="1" fill="#fff"/>
<rect x="506" y="385" width="6" height="4" fill="#fff"/>
<rect x="514" y="386" width="4" height="2" fill="#fff"/>
<rect x="506" y="391" width="6" height="4" fill="#fff"/>
<rect x="514" y="393" width="4" height="1" fill="#fff"/>
<rect x="506" y="397" width="6" height="4" fill="#fff"/>
<rect x="514" y="398" width="4" height="2" fill="#fff"/>
<rect x="506" y="403" width="6" height="4" fill="#fff"/>
<rect x="514" y="405" width="4" height="1" fill="#fff"/>
<rect x="506" y="408" width="6" height="4" fill="#fff"/>
<rect x="514" y="409" width="4" height="2" fill="#fff"/>
<rect x="506" y="414" width="6" height="4" fill="#fff"/>
<rect x="514" y="416" width="4" height="1" fill="#fff"/>
<rect x="506" y="420" width="6" height="4" fill="#fff"/>
<rect x="514" y="421" width="4" height="2" fill="#fff"/>
<rect x="506" y="426" width="6" height="4" fill="#fff"/>
<rect x="514" y="428" width="4" height="1" fill="#fff"/>
<rect x="506" y="432" width="6" height="4" fill="#fff"/>
<rect x="514" y="433" width="4" height="2" fill="#fff"/>
<rect x="506" y="438" width="6" height="4" fill="#fff"/>
<rect x="514" y="440" width="4" height="1" fill="#fff"/>
<rect x="506" y="444" width="6" height="4" fill="#fff"/>
<rect x="514" y="445" width="4" height="2" fill="#fff"/>
<rect x="506" y="450" width="6" height="4" fill="#fff"/>
<rect x="514" y="452" width="4" height="1" fill="#fff"/>
<rect x="506" y="456" width="6" height="4" fill="#fff"/>
<rect x="514" y="457" width="4" height="2" fill="#fff"/>
<rect x="506" y="462" width="6" height="4" fill="#fff"/>
<rect x="514" y="464" width="4" height="1" fill="#fff"/>
<rect x="506" y="467" width="6" height="4" fill="#fff"/>
<rect x="514" y="468" width="4" height="2" fill="#fff"/>
<rect x="506" y="473" width="6" height="4" fill="#fff"/>
<rect x="514" y="475" width="4" height="1" fill="#fff"/>
<rect x="506" y="479" width="6" height="4" fill="#fff"/>
<rect x="514" y="480" width="4" height="2" fill="#fff"/>
<rect x="506" y="485" width="6" height="4" fill="#fff"/>
<rect x="514" y="487" width="4" height="1" fill="#fff"/>
<rect x="506" y="491" width="6" height="4" fill="#fff"/>
<rect x="514" y="492" width="4" height="2" fill="#fff"/>
<rect x="506" y="497" width="6" height="4" fill="#fff"/>
<rect x="514" y="499" width="4" height="1" fill="#fff"/>
<rect x="506" y="503" width="6" height="4" fill="#fff"/>
<rect x="514" y="504" width="4" height="2" fill="#fff"/>
<rect x="506" y="509" width="6" height="4" fill="#fff"/>
<rect x="514" y="511" width="4" height="1" fill="#fff"/>
<rect x="506" y="515" width="6" height="4" fill="#fff"/>
<rect x="514" y="516" width="4" height="2" fill="#fff"/>
<rect x="506" y="520" width="6" height="4" fill="#fff"/>
<rect x="514" y="522" width="4" height="1" fill="#fff"/>
<rect x="506" y="526" width="6" height="4" fill="#fff"/>
<rect x="514" y="527" width="4" height="2" fill="#fff"/>
<rect x="506" y="532" width="6" height="4" fill="#fff"/>
<rect x="514" y="534" width="4" height="1" fill="#fff"/>
<rect x="506" y="538" width="6" height="4" fill="#fff"/>
<rect x="514" y="539" width="4" height="2" fill="#fff"/>
<rect x="506" y="544" width="6" height="4" fill="#fff"/>
<rect x="514" y="546" width="4" height="1" fill="#fff"/>
<rect x="519" y="376" width="1" height="175" fill="#fff"/>
<rect x="512" y="376" width="7" height="1" fill="#fff"/>
<rect x="522" y="351" width="1" height="226" fill="#000"/>
<rect x="540" y="351" width="1" height="226" fill="#000"/>
<rect x="522" y="351" width="19" height="1" fill="#000"/>
<rect x="522" y="576" width="19" height="1" fill="#000"/>
<rect x="527" y="352" width="1" height="6" fill="#000"/>
<rect x="534" y="352" width="1" height="6" fill="#000"/>
<rect x="524" y="358" width="16" height="4" fill="#000"/>
<rect x="524" y="359" width="1" height="1" fill="#fff"/>
<rect x="526" y="362" width="1" height="10" fill="#000"/>
<rect x="526" y="371" width="10" height="1" fill="#000"/>
<rect x="535" y="362" width="2" height="3" fill="#000"/>
<rect x="533" y="364" width="4" height="1" fill="#000"/>
<rect x="533" y="364" width="1" height="6" fill="#000"/>
<rect x="533" y="369" width="7" height="1" fill="#000"/>
<rect x="535" y="369" width="1" height="3" fill="#000"/>
<rect x="526" y="555" width="1" height="10" fill="#000"/>
<rect x="526" y="555" width="10" height="1" fill="#000"/>
<rect x="535" y="555" width="1" height="3" fill="#000"/>
<rect x="533" y="558" width="7" height="1" fill="#000"/>
<rect x="533" y="558" width="1" height="5" fill="#000"/>
<rect x="533" y="562" width="3" height="1" fill="#000"/>
<rect x="535" y="562" width="1" height="3" fill="#000"/>
<rect x="524" y="565" width="16" height="4" fill="#000"/>
<rect x="526" y="569" width="1" height="7" fill="#000"/>
<rect x="533" y="569" width="1" height="7" fill="#000"/>
<rect x="525" y="376" width="14" height="175" fill="#000"/>
<rect x="526" y="377" width="6" height="1" fill="#fff"/>
<rect x="526" y="379" width="6" height="4" fill="#fff"/>
<rect x="534" y="381" width="4" height="1" fill="#fff"/>
<rect x="526" y="385" width="6" height="4" fill="#fff"/>
<rect x="534" y="386" width="4" height="2" fill="#fff"/>
<rect x="526" y="391" width="6" height="4" fill="#fff"/>
<rect x="534" y="393" width="4" height="1" fill="#fff"/>
<rect x="526" y="397" width="6" height="4" fill="#fff"/>
<rect x="534" y="398" width="4" height="2" fill="#fff"/>
<rect x="526" y="403" width="6" height="4" fill="#fff"/>
<rect x="534" y="405" width="4" height="1" fill="#fff"/>
<rect x="526" y="408" width="6" height="4" fill="#fff"/>
<rect x="534" y="409" width="4" height="2" fill="#fff"/>
<rect x="526" y="414" width="6" height="4" fill="#fff"/>
<rect x="534" y="416" width="4" height="1" fill="#fff"/>
<rect x="526" y="420" width="6" height="4" fill="#fff"/>
<rect x="534" y="421" width="4" height="2" fill="#fff"/>
<rect x="526" y="426" width="6" height="4" fill="#fff"/>
<rect x="534" y="428" width="4" height="1" fill="#fff"/>
<rect x="526" y="432" width="6" height="4" fill="#fff"/>
<rect x="534" y="433" width="4" height="2" fill="#fff"/>
<rect x="526" y="438" width="6" height="4" fill="#fff"/>
<rect x="534" y="440" width="4" height="1" fill="#fff"/>
<rect x="526" y="444" width="6" height="4" fill="#fff"/>
<rect x="534" y="445" width="4" height="2" fill="#fff"/>
<rect x="526" y="450" width="6" height="4" fill="#fff"/>
<rect x="534" y="452" width="4" height="1" fill="#fff"/>
<rect x="526" y="456" width="6" height="4" fill="#fff"/>
<rect x="534" y="457" width="4" height="2" fill="#fff"/>
<rect x="526" y="462" width="6" height="4" fill="#fff"/>
<rect x="534" y="464" width="4" height="1" fill="#fff"/>
<rect x="526" y="467" width="6" height="4" fill="#fff"/>
<rect x="534" y="468" width="4" height="2" fill="#fff"/>
<rect x="526" y="473" width="6" height="4" fill="#fff"/>
<rect x="534" y="475" width="4" height="1" fill="#fff"/>
<rect x="526" y="479" width="6" height="4" fill="#fff"/>
<rect x="534" y="480" width="4" height="2" fill="#fff"/>
<rect x="526" y="485" width="6" height="4" fill="#fff"/>
<rect x="534" y="487" width="4" height="1" fill="#fff"/>
<rect x="526" y="491" width="6" height="4" fill="#fff"/>
<rect x="534" y="492" width="4" height="2" fill="#fff"/>
<rect x="526" y="497" width="6" height="4" fill="#fff"/>
<rect x="534" y="499" width="4" height="1" fill="#fff"/>
<rect x="526" y="503" width="6" height="4" fill="#fff"/>
<rect x="534" y="504" width="4" height="2" fill="#fff"/>
<rect x="526" y="509" width="6" height="4" fill="#fff"/>
<rect x="534" y="511" width="4" height="1" fill="#fff"/>
<rect x="526" y="515" width="6" height="4" fill="#fff"/>
<rect x="534" y="516" width="4" height="2" fill="#fff"/>
<rect x="526" y="520" width="6" height="4" fill="#fff"/>
<rect x="534" y="522" width="4" height="1" fill="#fff"/>
<rect x="526" y="526" width="6" height="4" fill="#fff"/>
<rect x="534" y="527" width="4" height="2" fill="#fff"/>
<rect x="526" y="532" width="6" height="4" fill="#fff"/>
<rect x="534" y="534" width="4" height="1" fill="#fff"/>
<rect x="526" y="538" width="6" height="4" fill="#fff"/>
<rect x="534" y="539" width="4" height="2" fill="#fff"/>
<rect x="526" y="544" width="6" height="4" fill="#fff"/>
<rect x="534" y="546" width="4" height="1" fill="#fff"/>
<rect x="539" y="376" width="1" height="175" fill="#fff"/>
<rect x="532" y="376" width="7" height="1" fill="#fff"/>
<rect x="542" y="351" width="1" height="226" fill="#000"/>
<rect x="560" y="351" width="1" height="226" fill="#000"/>
<rect x="542" y="351" width="19" height="1" fill="#000"/>
<rect x="542" y="576" width="19" height="1" fill="#000"/>
<rect x="547" y="352" width="1" height="6" fill="#000"/>
<rect x="554" y="352" width="1" height="6" fill="#000"/>
<rect x="544" y="358" width="16" height="4" fill="#000"/>
<rect x="544" y="359" width="1" height="1" fill="#fff"/>
<rect x="546" y="362" width="1" height="10" fill="#000"/>
<rect x="546" y="371" width="10" height="1" fill="#000"/>
<rect x="555" y="362" width="2" height="3" fill="#000"/>
<rect x="553" y="364" width="4" height="1" fill="#000"/>
<rect x="553" y="364" width="1" height="6" fill="#000"/>
<rect x="553" y="369" width="7" height="1" fill="#000"/>
<rect x="555" y="369" width="1" height="3" fill="#000"/>
<rect x="546" y="555" width="1" height="10" fill="#000"/>
<rect x="546" y="555" width="10" height="1" fill="#000"/>
<rect x="555" y="555" width="1" height="3" fill="#000"/>
<rect x="553" y="558" width="7" height="1" fill="#000"/>
<rect x="553" y="558" width="1" height="5" fill="#000"/>
<rect x="553" y="562" width="3" height="1" fill="#000"/>
<rect x="555" y="562" width="1" height="3" fill="#000"/>
<rect x="544" y="565" width="16" height="4" fill="#000"/>
<rect x="546" y="569" width="1" height="7" fill="#000"/>
<rect x="553" y="569" width="1" height="7" fill="#000"/>
<rect x="545" y="376" width="14" height="175" fill="#000"/>
<rect x="546" y="377" width="6" height="1" fill="#fff"/>
<rect x="546" y="379" width="6" height="4" fill="#fff"/>
<rect x="554" y="381" width="4" height="1" fill="#fff"/>
<rect x="546" y="385" width="6" height="4" fill="#fff"/>
<rect x="554" y="386" width="4" height="2" fill="#fff"/>
<rect x="546" y="391" width="6" height="4" fill="#fff"/>
<rect x="554" y="393" width="4" height="1" fill="#fff"/>
<rect x="546" y="397" width="6" height="4" fill="#fff"/>
<rect x="554" y="398" width="4" height="2" fill="#fff"/>
<rect x="546" y="403" width="6" height="4" fill="#fff"/>
<rect x="554" y="405" width="4" height="1" fill="#fff"/>
<rect x="546" y="408" width="6" height="4" fill="#fff"/>
<rect x="554" y="409" width="4" height="2" fill="#fff"/>
<rect x="546" y="414" width="6" height="4" fill="#fff"/>
<rect x="554" y="416" width="4" height="1" fill="#fff"/>
<rect x="546" y="420" width="6" height="4" fill="#fff"/>
<rect x="554" y="421" width="4" height="2" fill="#fff"/>
<rect x="546" y="426" width="6" height="4" fill="#fff"/>
<rect x="554" y="428" width="4" height="1" fill="#fff"/>
<rect x="546" y="432" width="6" height="4" fill="#fff"/>
<rect x="554" y="433" width="4" height="2" fill="#fff"/>
<rect x="546" y="438" width="6" height="4" fill="#fff"/>
<rect x="554" y="440" width="4" height="1" fill="#fff"/>
<rect x="546" y="444" width="6" height="4" fill="#fff"/>
<rect x="554" y="445" width="4" height="2" fill="#fff"/>
<rect x="546" y="450" width="6" height="4" fill="#fff"/>
<rect x="554" y="452" width="4" height="1" fill="#fff"/>
<rect x="546" y="456" width="6" height="4" fill="#fff"/>
<rect x="554" y="457" width="4" height="2" fill="#fff"/>
<rect x="546" y="462" width="6" height="4" fill="#fff"/>
<rect x="554" y="464" width="4" height="1" fill="#fff"/>
<rect x="546" y="467" width="6" height="4" fill="#fff"/>
<rect x="554" y="468" width="4" height="2" fill="#fff"/>
<rect x="546" y="473" width="6" height="4" fill="#fff"/>
<rect x="554" y="475" width="4" height="1" fill="#fff"/>
<rect x="546" y="479" width="6" height="4" fill="#fff"/>
<rect x="554" y="480" width="4" height="2" fill="#fff"/>
<rect x="546" y="485" width="6" height="4" fill="#fff"/>
<rect x="554" y="487" width="4" height="1" fill="#fff"/>
<rect x="546" y="491" width="6" height="4" fill="#fff"/>
<rect x="554" y="492" width="4" height="2" fill="#fff"/>
<rect x="546" y="497" width="6" height="4" fill="#fff"/>
<rect x="554" y="499" width="4" height="1" fill="#fff"/>
<rect x="546" y="503" width="6" height="4" fill="#fff"/>
<rect x="554" y="504" width="4" height="2" fill="#fff"/>
<rect x="546" y="509" width="6" height="4" fill="#fff"/>
<rect x="554" y="511" width="4" height="1" fill="#fff"/>
<rect x="546" y="515" width="6" height="4" fill="#fff"/>
<rect x="554" y="516" width="4" height="2" fill="#fff"/>
<rect x="546" y="520" width="6" height="4" fill="#fff"/>
<rect x="554" y="522" width="4" height="1" fill="#fff"/>
<rect x="546" y="526" width="6" height="4" fill="#fff"/>
<rect x="554" y="527" width="4" height="2" fill="#fff"/>
<rect x="546" y="532" width="6" height="4" fill="#fff"/>
<rect x="554" y="534" width="4" height="1" fill="#fff"/>
<rect x="546" y="538" width="6" height="4" fill="#fff"/>
<rect x="554" y="539" width="4" height="2" fill="#fff"/>
<rect x="546" y="544" width="6" height="4" fill="#fff"/>
<rect x="554" y="546" width="4" height="1" fill="#fff"/>
<rect x="559" y="376" width="1" height="175" fill="#fff"/>
<rect x="552" y="376" width="7" height="1" fill="#fff"/>
<rect x="563" y="351" width="1" height="226" fill="#000"/>
<rect x="581" y="351" width="1" height="226" fill="#000"/>
<rect x="563" y="351" width="19" height="1" fill="#000"/>
<rect x="563" y="576" width="19" height="1" fill="#000"/>
<rect x="568" y="352" width="1" height="6" fill="#000"/>
<rect x="575" y="352" width="1" height="6" fill="#000"/>
<rect x="565" y="358" width="16" height="4" fill="#000"/>
<rect x="565" y="359" width="1" height="1" fill="#fff"/>
<rect x="567" y="362" width="1" height="10" fill="#000"/>
<rect x="567" y="371" width="10" height="1" fill="#000"/>
<rect x="576" y="362" width="2" height="3" fill="#000"/>
<rect x="574" y="364" width="4" height="1" fill="#000"/>
<rect x="574" y="364" width="1" height="6" fill="#000"/>
<rect x="574" y="369" width="7" height="1" fill="#000"/>
<rect x="576" y="369" width="1" height="3" fill="#000"/>
<rect x="567" y="555" width="1" height="10" fill="#000"/>
<rect x="567" y="555" width="10" height="1" fill="#000"/>
<rect x="576" y="555" width="1" height="3" fill="#000"/>
<rect x="574" y="558" width="7" height="1" fill="#000"/>
<rect x="574" y="558" width="1" height="5" fill="#000"/>
<rect x="574" y="562" width="3" height="1" fill="#000"/>
<rect x="576" y="562" width="1" height="3" fill="#000"/>
<rect x="565" y="565" width="16" height="4" fill="#000"/>
<rect x="567" y="569" width="1" height="7" fill="#000"/>
<rect x="574" y="569" width="1" height="7" fill="#000"/>
<rect x="566" y="376" width="14" height="175" fill="#000"/>
<rect x="567" y="377" width="6" height="1" fill="#fff"/>
<rect x="567" y="379" width="6" height="4" fill="#fff"/>
<rect x="575" y="381" width="4" height="1" fill="#fff"/>
<rect x="567" y="385" width="6" height="4" fill="#fff"/>
<rect x="575" y="386" width="4" height="2" fill="#fff"/>
<rect x="567" y="391" width="6" height="4" fill="#fff"/>
<rect x="575" y="393" width="4" height="1" fill="#fff"/>
<rect x="567" y="397" width="6" height="4" fill="#fff"/>
<rect x="575" y="398" width="4" height="2" fill="#fff"/>
<rect x="567" y="403" width="6" height="4" fill="#fff"/>
<rect x="575" y="405" width="4" height="1" fill="#fff"/>
<rect x="567" y="408" width="6" height="4" fill="#fff"/>
<rect x="575" y="409" width="4" height="2" fill="#fff"/>
<rect x="567" y="414" width="6" height="4" fill="#fff"/>
<rect x="575" y="416" width="4" height="1" fill="#fff"/>
<rect x="567" y="420" width="6" height="4" fill="#fff"/>
<rect x="575" y="421" width="4" height="2" fill="#fff"/>
<rect x="567" y="426" width="6" height="4" fill="#fff"/>
<rect x="575" y="428" width="4" height="1" fill="#fff"/>
<rect x="567" y="432" width="6" height="4" fill="#fff"/>
<rect x="575" y="433" width="4" height="2" fill="#fff"/>
<rect x="567" y="438" width="6" height="4" fill="#fff"/>
<rect x="575" y="440" width="4" height="1" fill="#fff"/>
<rect x="567" y="444" width="6" height="4" fill="#fff"/>
<rect x="575" y="445" width="4" height="2" fill="#fff"/>
<rect x="567" y="450" width="6" height="4" fill="#fff"/>
<rect x="575" y="452" width="4" height="1" fill="#fff"/>
<rect x="567" y="456" width="6" height="4" fill="#fff"/>
<rect x="575" y="457" width="4" height="2" fill="#fff"/>
<rect x="567" y="462" width="6" height="4" fill="#fff"/>
<rect x="575" y="464" width="4" height="1" fill="#fff"/>
<rect x="567" y="467" width="6" height="4" fill="#fff"/>
<rect x="575" y="468" width="4" height="2" fill="#fff"/>
<rect x="567" y="473" width="6" height="4" fill="#fff"/>
<rect x="575" y="475" width="4" height="1" fill="#fff"/>
<rect x="567" y="479" width="6" height="4" fill="#fff"/>
<rect x="575" y="480" width="4" height="2" fill="#fff"/>
<rect x="567" y="485" width="6" height="4" fill="#fff"/>
<rect x="575" y="487" width="4" height="1" fill="#fff"/>
<rect x="567" y="491" width="6" height="4" fill="#fff"/>
<rect x="575" y="492" width="4" height="2" fill="#fff"/>
<rect x="567" y="497" width="6" height="4" fill="#fff"/>
<rect x="575" y="499" width="4" height="1" fill="#fff"/>
<rect x="567" y="503" width="6" height="4" fill="#fff"/>
<rect x="575" y="504" width="4" height="2" fill="#fff"/>
<rect x="567" y="509" width="6" height="4" fill="#fff"/>
<rect x="575" y="511" width="4" height="1" fill="#fff"/>
<rect x="567" y="515" width="6" height="4" fill="#fff"/>
<rect x="575" y="516" width="4" height="2" fill="#fff"/>
<rect x="567" y="520" width="6" height="4" fill="#fff"/>
<rect x="575" y="522" width="4" height="1" fill="#fff"/>
<rect x="567" y="526" width="6" height="4" fill="#fff"/>
<rect x="575" y="527" width="4" height="2" fill="#fff"/>
<rect x="567" y="532" width="6" height="4" fill="#fff"/>
<rect x="575" y="534" width="4" height="1" fill="#fff"/>
<rect x="567" y="538" width="6" height="4" fill="#fff"/>
<rect x="575" y="539" width="4" height="2" fill="#fff"/>
<rect x="567" y="544" width="6" height="4" fill="#fff"/>
<rect x="575" y="546" width="4" height="1" fill="#fff"/>
<rect x="580" y="376" width="1" height="175" fill="#fff"/>
<rect x="573" y="376" width="7" height="1" fill="#fff"/>
<rect x="583" y="351" width="1" height="226" fill="#000"/>
<rect x="601" y="351" width="1" height="226" fill="#000"/>
<rect x="583" y="351" width="19" height="1" fill="#000"/>
<rect x="583" y="576" width="19" height="1" fill="#000"/>
<rect x="588" y="352" width="1" height="6" fill="#000"/>
<rect x="595" y="352" width="1" height="6" fill="#000"/>
<rect x="585" y="358" width="16" height="4" fill="#000"/>
<rect x="585" y="359" width="1" height="1" fill="#fff"/>
<rect x="587" y="362" width="1" height="10" fill="#000"/>
<rect x="587" y="371" width="10" height="1" fill="#000"/>
<rect x="596" y="362" width="2" height="3" fill="#000"/>
<rect x="594" y="364" width="4" height="1" fill="#000"/>
<rect x="594" y="364" width="1" height="6" fill="#000"/>
<rect x="594" y="369" width="7" height="1" fill="#000"/>
<rect x="596" y="369" width="1" height="3" fill="#000"/>
<rect x="587" y="555" width="1" height="10" fill="#000"/>
<rect x="587" y="555" width="10" height="1" fill="#000"/>
<rect x="596" y="555" width="1" height="3" fill="#000"/>
<rect x="594" y="558" width="7" height="1" fill="#000"/>
<rect x="594" y="558" width="1" height="5" fill="#000"/>
<rect x="594" y="562" width="3" height="1" fill="#000"/>
<rect x="596" y="562" width="1" height="3" fill="#000"/>
<rect x="585" y="565" width="16" height="4" fill="#000"/>
<rect x="587" y="569" width="1" height="7" fill="#000"/>
<rect x="594" y="569" width="1" height="7" fill="#000"/>
<rect x="586" y="376" width="14" height="175" fill="#000"/>
<rect x="587" y="377" width="6" height="1" fill="#fff"/>
<rect x="587" y="379" width="6" height="4" fill="#fff"/>
<rect x="595" y="381" width="4" height="1" fill="#fff"/>
<rect x="587" y="385" width="6" height="4" fill="#fff"/>
<rect x="595" y="386" width="4" height="2" fill="#fff"/>
<rect x="587" y="391" width="6" height="4" fill="#fff"/>
<rect x="595" y="393" width="4" height="1" fill="#fff"/>
<rect x="587" y="397" width="6" height="4" fill="#fff"/>
<rect x="595" y="398" width="4" height="2" fill="#fff"/>
<rect x="587" y="403" width="6" height="4" fill="#fff"/>
<rect x="595" y="405" width="4" height="1" fill="#fff"/>
<rect x="587" y="408" width="6" height="4" fill="#fff"/>
<rect x="595" y="409" width="4" height="2" fill="#fff"/>
<rect x="587" y="414" width="6" height="4" fill="#fff"/>
<rect x="595" y="416" width="4" height="1" fill="#fff"/>
<rect x="587" y="420" width="6" height="4" fill="#fff"/>
<rect x="595" y="421" width="4" height="2" fill="#fff"/>
<rect x="587" y="426" width="6" height="4" fill="#fff"/>
<rect x="595" y="428" width="4" height="1" fill="#fff"/>
<rect x="587" y="432" width="6" height="4" fill="#fff"/>
<rect x="595" y="433" width="4" height="2" fill="#fff"/>
<rect x="587" y="438" width="6" height="4" fill="#fff"/>
<rect x="595" y="440" width="4" height="1" fill="#fff"/>
<rect x="587" y="444" width="6" height="4" fill="#fff"/>
<rect x="595" y="445" width="4" height="2" fill="#fff"/>
<rect x="587" y="450" width="6" height="4" fill="#fff"/>
<rect x="595" y="452" width="4" height="1" fill="#fff"/>
<rect x="587" y="456" width="6" height="4" fill="#fff"/>
<rect x="595" y="457" width="4" height="2" fill="#fff"/>
<rect x="587" y="462" width="6" height="4" fill="#fff"/>
<rect x="595" y="464" width="4" height="1" fill="#fff"/>
<rect x="587" y="467" width="6" height="4" fill="#fff"/>
<rect x="595" y="468" width="4" height="2" fill="#fff"/>
<rect x="587" y="473" width="6" height="4" fill="#fff"/>
<rect x="595" y="475" width="4" height="1" fill="#fff"/>
<rect x="587" y="479" width="6" height="4" fill="#fff"/>
<rect x="595" y="480" width="4" height="2" fill="#fff"/>
<rect x="587" y="485" width="6" height="4" fill="#fff"/>
<rect x="595" y="487" width="4" height="1" fill="#fff"/>
<rect x="587" y="491" width="6" height="4" fill="#fff"/>
<rect x="595" y="492" width="4" height="2" fill="#fff"/>
<rect x="587" y="497" width="6" height="4" fill="#fff"/>
<rect x="595" y="499" width="4" height="1" fill="#fff"/>
<rect x="587" y="503" width="6" height="4" fill="#fff"/>
<rect x="595" y="504" width="4" height="2" fill="#fff"/>
<rect x="587" y="509" width="6" height="4" fill="#fff"/>
<rect x="595" y="511" width="4" height="1" fill="#fff"/>
<rect x="587" y="515" width="6" height="4" fill="#fff"/>
<rect x="595" y="516" width="4" height="2" fill="#fff"/>
<rect x="587" y="520" width="6" height="4" fill="#fff"/>
<rect x="595" y="522" width="4" height="1" fill="#fff"/>
<rect x="587" y="526" width="6" height="4" fill="#fff"/>
<rect x="595" y="527" width="4" height="2" fill="#fff"/>
<rect x="587" y="532" width="6" height="4" fill="#fff"/>
<rect x="595" y="534" width="4" height="1" fill="#fff"/>
<rect x="587" y="538" width="6" height="4" fill="#fff"/>
<rect x="595" y="539" width="4" height="2" fill="#fff"/>
<rect x="587" y="544" width="6" height="4" fill="#fff"/>
<rect x="595" y="546" width="4" height="1" fill="#fff"/>
<rect x="600" y="376" width="1" height="175" fill="#fff"/>
<rect x="593" y="376" width="7" height="1" fill="#fff"/>
<rect x="603" y="351" width="1" height="226" fill="#000"/>
<rect x="621" y="351" width="1" height="226" fill="#000"/>
<rect x="603" y="351" width="19" height="1" fill="#000"/>
<rect x="603" y="576" width="19" height="1" fill="#000"/>
<rect x="608" y="352" width="1" height="6" fill="#000"/>
<rect x="615" y="352" width="1" height="6" fill="#000"/>
<rect x="605" y="358" width="16" height="4" fill="#000"/>
<rect x="605" y="359" width="1" height="1" fill="#fff"/>
<rect x="607" y="362" width="1" height="10" fill="#000"/>
<rect x="607" y="371" width="10" height="1" fill="#000"/>
<rect x="616" y="362" width="2" height="3" fill="#000"/>
<rect x="614" y="364" width="4" height="1" fill="#000"/>
<rect x="614" y="364" width="1" height="6" fill="#000"/>
<rect x="614" y="369" width="7" height="1" fill="#000"/>
<rect x="616" y="369" width="1" height="3" fill="#000"/>
<rect x="607" y="555" width="1" height="10" fill="#000"/>
<rect x="607" y="555" width="10" height="1" fill="#000"/>
<rect x="616" y="555" width="1" height="3" fill="#000"/>
<rect x="614" y="558" width="7" height="1" fill="#000"/>
<rect x="614" y="558" width="1" height="5" fill="#000"/>
<rect x="614" y="562" width="3" height="1" fill="#000"/>
<rect x="616" y="562" width="1" height="3" fill="#000"/>
<rect x="605" y="565" width="16" height="4" fill="#000"/>
<rect x="607" y="569" width="1" height="7" fill="#000"/>
<rect x="614" y="569" width="1" height="7" fill="#000"/>
<rect x="606" y="376" width="14" height="175" fill="#000"/>
<rect x="607" y="377" width="6" height="1" fill="#fff"/>
<rect x="607" y="379" width="6" height="4" fill="#fff"/>
<rect x="615" y="381" width="4" height="1" fill="#fff"/>
<rect x="607" y="385" width="6" height="4" fill="#fff"/>
<rect x="615" y="386" width="4" height="2" fill="#fff"/>
<rect x="607" y="391" width="6" height="4" fill="#fff"/>
<rect x="615" y="393" width="4" height="1" fill="#fff"/>
<rect x="607" y="397" width="6" height="4" fill="#fff"/>
<rect x="615" y="398" width="4" height="2" fill="#fff"/>
<rect x="607" y="403" width="6" height="4" fill="#fff"/>
<rect x="615" y="405" width="4" height="1" fill="#fff"/>
<rect x="607" y="408" width="6" height="4" fill="#fff"/>
<rect x="615" y="409" width="4" height="2" fill="#fff"/>
<rect x="607" y="414" width="6" height="4" fill="#fff"/>
<rect x="615" y="416" width="4" height="1" fill="#fff"/>
<rect x="607" y="420" width="6" height="4" fill="#fff"/>
<rect x="615" y="421" width="4" height="2" fill="#fff"/>
<rect x="607" y="426" width="6" height="4" fill="#fff"/>
<rect x="615" y="428" width="4" height="1" fill="#fff"/>
<rect x="607" y="432" width="6" height="4" fill="#fff"/>
<rect x="615" y="433" width="4" height="2" fill="#fff"/>
<rect x="607" y="438" width="6" height="4" fill="#fff"/>
<rect x="615" y="440" width="4" height="1" fill="#fff"/>
<rect x="607" y="444" width="6" height="4" fill="#fff"/>
<rect x="615" y="445" width="4" height="2" fill="#fff"/>
<rect x="607" y="450" width="6" height="4" fill="#fff"/>
<rect x="615" y="452" width="4" height="1" fill="#fff"/>
<rect x="607" y="456" width="6" height="4" fill="#fff"/>
<rect x="615" y="457" width="4" height="2" fill="#fff"/>
<rect x="607" y="462" width="6" height="4" fill="#fff"/>
<rect x="615" y="464" width="4" height="1" fill="#fff"/>
<rect x="607" y="467" width="6" height="4" fill="#fff"/>
<rect x="615" y="468" width="4" height="2" fill="#fff"/>
<rect x="607" y="473" width="6" height="4" fill="#fff"/>
<rect x="615" y="475" width="4" height="1" fill="#fff"/>
<rect x="607" y="479" width="6" height="4" fill="#fff"/>
<rect x="615" y="480" width="4" height="2" fill="#fff"/>
<rect x="607" y="485" width="6" height="4" fill="#fff"/>
<rect x="615" y="487" width="4" height="1" fill="#fff"/>
<rect x="607" y="491" width="6" height="4" fill="#fff"/>
<rect x="615" y="492" width="4" height="2" fill="#fff"/>
<rect x="607" y="497" width="6" height="4" fill="#fff"/>
<rect x="615" y="499" width="4" height="1" fill="#fff"/>
<rect x="607" y="503" width="6" height="4" fill="#fff"/>
<rect x="615" y="504" width="4" height="2" fill="#fff"/>
<rect x="607" y="509" width="6" height="4" fill="#fff"/>
<rect x="615" y="511" width="4" height="1" fill="#fff"/>
<rect x="607" y="515" width="6" height="4" fill="#fff"/>
<rect x="615" y="516" width="4" height="2" fill="#fff"/>
<rect x="607" y="520" width="6" height="4" fill="#fff"/>
<rect x="615" y="522" width="4" height="1" fill="#fff"/>
<rect x="607" y="526" width="6" height="4" fill="#fff"/>
<rect x="615" y="527" width="4" height="2" fill="#fff"/>
<rect x="607" y="532" width="6" height="4" fill="#fff"/>
<rect x="615" y="534" width="4" height="1" fill="#fff"/>
<rect x="607" y="538" width="6" height="4" fill="#fff"/>
<rect x="615" y="539" width="4" height="2" fill="#fff"/>
<rect x="607" y="544" width="6" height="4" fill="#fff"/>
<rect x="615" y="546" width="4" height="1" fill="#fff"/>
<rect x="620" y="376" width="1" height="175" fill="#fff"/>
<rect x="613" y="376" width="7" height="1" fill="#fff"/>
<rect x="623" y="351" width="1" height="226" fill="#000"/>
<rect x="641" y="351" width="1" height="226" fill="#000"/>
<rect x="623" y="351" width="19" height="1" fill="#000"/>
<rect x="623" y="576" width="19" height="1" fill="#000"/>
<rect x="628" y="352" width="1" height="6" fill="#000"/>
<rect x="635" y="352" width="1" height="6" fill="#000"/>
<rect x="625" y="358" width="16" height="4" fill="#000"/>
<rect x="625" y="359" width="1" height="1" fill="#fff"/>
<rect x="627" y="362" width="1" height="10" fill="#000"/>
<rect x="627" y="371" width="10" height="1" fill="#000"/>
<rect x="636" y="362" width="2" height="3" fill="#000"/>
<rect x="634" y="364" width="4" height="1" fill="#000"/>
<rect x="634" y="364" width="1" height="6" fill="#000"/>
<rect x="634" y="369" width="7" height="1" fill="#000"/>
<rect x="636" y="369" width="1" height="3" fill="#000"/>
<rect x="627" y="555" width="1" height="10" fill="#000"/>
<rect x="627" y="555" width="10" height="1" fill="#000"/>
<rect x="636" y="555" width="1" height="3" fill="#000"/>
<rect x="634" y="558" width="7" height="1" fill="#000"/>
<rect x="634" y="558" width="1" height="5" fill="#000"/>
<rect x="634" y="562" width="3" height="1" fill="#000"/>
<rect x="636" y="562" width="1" height="3" fill="#000"/>
<rect x="625" y="565" width="16" height="4" fill="#000"/>
<rect x="627" y="569" width="1" height="7" fill="#000"/>
<rect x="634" y="569" width="1" height="7" fill="#000"/>
<rect x="626" y="376" width="14" height="175" fill="#000"/>
<rect x="627" y="377" width="6" height="1" fill="#fff"/>
<rect x="627" y="379" width="6" height="4" fill="#fff"/>
<rect x="635" y="381" width="4" height="1" fill="#fff"/>
<rect x="627" y="385" width="6" height="4" fill="#fff"/>
<rect x="635" y="386" width="4" height="2" fill="#fff"/>
<rect x="627" y="391" width="6" height="4" fill="#fff"/>
<rect x="635" y="393" width="4" height="1" fill="#fff"/>
<rect x="627" y="397" width="6" height="4" fill="#fff"/>
<rect x="635" y="398" width="4" height="2" fill="#fff"/>
<rect x="627" y="403" width="6" height="4" fill="#fff"/>
<rect x="635" y="405" width="4" height="1" fill="#fff"/>
<rect x="627" y="408" width="6" height="4" fill="#fff"/>
<rect x="635" y="409" width="4" height="2" fill="#fff"/>
<rect x="627" y="414" width="6" height="4" fill="#fff"/>
<rect x="635" y="416" width="4" height="1" fill="#fff"/>
<rect x="627" y="420" width="6" height="4" fill="#fff"/>
<rect x="635" y="421" width="4" height="2" fill="#fff"/>
<rect x="627" y="426" width="6" height="4" fill="#fff"/>
<rect x="635" y="428" width="4" height="1" fill="#fff"/>
<rect x="627" y="432" width="6" height="4" fill="#fff"/>
<rect x="635" y="433" width="4" height="2" fill="#fff"/>
<rect x="627" y="438" width="6" height="4" fill="#fff"/>
<rect x="635" y="440" width="4" height="1" fill="#fff"/>
<rect x="627" y="444" width="6" height="4" fill="#fff"/>
<rect x="635" y="445" width="4" height="2" fill="#fff"/>
<rect x="627" y="450" width="6" height="4" fill="#fff"/>
<rect x="635" y="452" width="4" height="1" fill="#fff"/>
<rect x="627" y="456" width="6" height="4" fill="#fff"/>
<rect x="635" y="457" width="4" height="2" fill="#fff"/>
<rect x="627" y="462" width="6" height="4" fill="#fff"/>
<rect x="635" y="464" width="4" height="1" fill="#fff"/>
<rect x="627" y="467" width="6" height="4" fill="#fff"/>
<rect x="635" y="468" width="4" height="2" fill="#fff"/>
<rect x="627" y="473" width="6" height="4" fill="#fff"/>
<rect x="635" y="475" width="4" height="1" fill="#fff"/>
<rect x="627" y="479" width="6" height="4" fill="#fff"/>
<rect x="635" y="480" width="4" height="2" fill="#fff"/>
<rect x="627" y="485" width="6" height="4" fill="#fff"/>
<rect x="635" y="487" width="4" height="1" fill="#fff"/>
<rect x="627" y="491" width="6" height="4" fill="#fff"/>
<rect x="635" y="492" width="4" height="2" fill="#fff"/>
<rect x="627" y="497" width="6" height="4" fill="#fff"/>
<rect x="635" y="499" width="4" height="1" fill="#fff"/>
<rect x="627" y="503" width="6" height="4" fill="#fff"/>
<rect x="635" y="504" width="4" height="2" fill="#fff"/>
<rect x="627" y="509" width="6" height="4" fill="#fff"/>
<rect x="635" y="511" width="4" height="1" fill="#fff"/>
<rect x="627" y="515" width="6" height="4" fill="#fff"/>
<rect x="635" y="516" width="4" height="2" fill="#fff"/>
<rect x="627" y="520" width="6" height="4" fill="#fff"/>
<rect x="635" y="522" width="4" height="1" fill="#fff"/>
<rect x="627" y="526" width="6" height="4" fill="#fff"/>
<rect x="635" y="527" width="4" height="2" fill="#fff"/>
<rect x="627" y="532" width="6" height="4" fill="#fff"/>
<rect x="635" y="534" width="4" height="1" fill="#fff"/>
<rect x="627" y="538" width="6" height="4" fill="#fff"/>
<rect x="635" y="539" width="4" height="2" fill="#fff"/>
<rect x="627" y="544" width="6" height="4" fill="#fff"/>
<rect x="635" y="546" width="4" height="1" fill="#fff"/>
<rect x="640" y="376" width="1" height="175" fill="#fff"/>
<rect x="633" y="376" width="7" height="1" fill="#fff"/>
<rect x="331" y="455" width="60" height="18" fill="#000"/>
<rect x="333" y="457" width="56" height="14" rx="2" fill="#fff"/>
<g filter="url(#bin)" font-family="Liberation Sans" fill="#000"><text font-size="13.66" transform="translate(336.90,0) scale(0.715,1)" x="0" y="467.60">B</text><text font-size="13.66" transform="translate(346.38,0) scale(0.684,1)" x="0" y="467.60">A</text><text font-size="13.66" transform="translate(354.18,0) scale(0.734,1)" x="0" y="467.60">N</text><text font-size="13.66" transform="translate(362.37,0) scale(0.740,1)" x="0" y="467.60">K</text><text font-size="13.66" transform="translate(378.10,0) scale(0.772,1)" x="0" y="467.60">3</text></g>
<rect x="412" y="455" width="60" height="18" fill="#000"/>
<rect x="414" y="457" width="56" height="14" rx="2" fill="#fff"/>
<g filter="url(#bin)" font-family="Liberation Sans" fill="#000"><text font-size="13.66" transform="translate(417.43,0) scale(0.715,1)" x="0" y="467.60">B</text><text font-size="13.66" transform="translate(426.91,0) scale(0.684,1)" x="0" y="467.60">A</text><text font-size="13.66" transform="translate(434.71,0) scale(0.734,1)" x="0" y="467.60">N</text><text font-size="13.66" transform="translate(442.90,0) scale(0.740,1)" x="0" y="467.60">K</text><text font-size="13.66" transform="translate(458.48,0) scale(0.803,1)" x="0" y="467.60">2</text></g>
<rect x="492" y="455" width="60" height="18" fill="#000"/>
<rect x="494" y="457" width="56" height="14" rx="2" fill="#fff"/>
<g filter="url(#bin)" font-family="Liberation Sans" fill="#000"><text font-size="13.66" transform="translate(497.96,0) scale(0.715,1)" x="0" y="467.60">B</text><text font-size="13.66" transform="translate(507.44,0) scale(0.684,1)" x="0" y="467.60">A</text><text font-size="13.66" transform="translate(515.24,0) scale(0.734,1)" x="0" y="467.60">N</text><text font-size="13.66" transform="translate(523.43,0) scale(0.740,1)" x="0" y="467.60">K</text><text font-size="13.66" transform="translate(538.98,0) scale(0.560,1)" x="0" y="467.60">1</text></g>
<rect x="573" y="455" width="60" height="18" fill="#000"/>
<rect x="575" y="457" width="56" height="14" rx="2" fill="#fff"/>
<g filter="url(#bin)" font-family="Liberation Sans" fill="#000"><text font-size="13.66" transform="translate(578.49,0) scale(0.715,1)" x="0" y="467.60">B</text><text font-size="13.66" transform="translate(587.97,0) scale(0.684,1)" x="0" y="467.60">A</text><text font-size="13.66" transform="translate(595.77,0) scale(0.734,1)" x="0" y="467.60">N</text><text font-size="13.66" transform="translate(603.96,0) scale(0.740,1)" x="0" y="467.60">K</text><text font-size="13.66" transform="translate(619.68,0) scale(0.766,1)" x="0" y="467.60">0</text></g>
<rect x="33" y="119" width="107" height="107" fill="#000"/>
<rect x="61" y="146" width="52" height="53" fill="#fff"/>
<rect x="37" y="124" width="4" height="3" fill="#fff"/>
<rect x="38" y="123" width="2" height="1" fill="#fff"/>
<rect x="44" y="124" width="4" height="3" fill="#fff"/>
<rect x="45" y="127" width="2" height="1" fill="#fff"/>
<rect x="51" y="124" width="4" height="3" fill="#fff"/>
<rect x="52" y="123" width="2" height="1" fill="#fff"/>
<rect x="58" y="124" width="4" height="3" fill="#fff"/>
<rect x="59" y="127" width="2" height="1" fill="#fff"/>
<rect x="64" y="124" width="4" height="3" fill="#fff"/>
<rect x="65" y="123" width="2" height="1" fill="#fff"/>
<rect x="71" y="124" width="4" height="3" fill="#fff"/>
<rect x="72" y="127" width="2" height="1" fill="#fff"/>
<rect x="78" y="124" width="4" height="3" fill="#fff"/>
<rect x="79" y="123" width="2" height="1" fill="#fff"/>
<rect x="85" y="124" width="4" height="3" fill="#fff"/>
<rect x="86" y="127" width="2" height="1" fill="#fff"/>
<rect x="92" y="124" width="4" height="3" fill="#fff"/>
<rect x="93" y="123" width="2" height="1" fill="#fff"/>
<rect x="99" y="124" width="4" height="3" fill="#fff"/>
<rect x="100" y="127" width="2" height="1" fill="#fff"/>
<rect x="106" y="124" width="4" height="3" fill="#fff"/>
<rect x="107" y="123" width="2" height="1" fill="#fff"/>
<rect x="112" y="124" width="4" height="3" fill="#fff"/>
<rect x="113" y="127" width="2" height="1" fill="#fff"/>
<rect x="119" y="124" width="4" height="3" fill="#fff"/>
<rect x="120" y="123" width="2" height="1" fill="#fff"/>
<rect x="126" y="124" width="4" height="3" fill="#fff"/>
<rect x="127" y="127" width="2" height="1" fill="#fff"/>
<rect x="133" y="124" width="4" height="3" fill="#fff"/>
<rect x="134" y="123" width="2" height="1" fill="#fff"/>
<rect x="37" y="131" width="4" height="3" fill="#fff"/>
<rect x="38" y="134" width="2" height="1" fill="#fff"/>
<rect x="44" y="131" width="4" height="3" fill="#fff"/>
<rect x="45" y="130" width="2" height="1" fill="#fff"/>
<rect x="51" y="131" width="4" height="3" fill="#fff"/>
<rect x="52" y="134" width="2" height="1" fill="#fff"/>
<rect x="58" y="131" width="4" height="3" fill="#fff"/>
<rect x="59" y="130" width="2" height="1" fill="#fff"/>
<rect x="64" y="131" width="4" height="3" fill="#fff"/>
<rect x="65" y="134" width="2" height="1" fill="#fff"/>
<rect x="71" y="131" width="4" height="3" fill="#fff"/>
<rect x="72" y="130" width="2" height="1" fill="#fff"/>
<rect x="78" y="131" width="4" height="3" fill="#fff"/>
<rect x="79" y="134" width="2" height="1" fill="#fff"/>
<rect x="85" y="131" width="4" height="3" fill="#fff"/>
<rect x="86" y="130" width="2" height="1" fill="#fff"/>
<rect x="92" y="131" width="4" height="3" fill="#fff"/>
<rect x="93" y="134" width="2" height="1" fill="#fff"/>
<rect x="99" y="131" width="4" height="3" fill="#fff"/>
<rect x="100" y="130" width="2" height="1" fill="#fff"/>
<rect x="106" y="131" width="4" height="3" fill="#fff"/>
<rect x="107" y="134" width="2" height="1" fill="#fff"/>
<rect x="112" y="131" width="4" height="3" fill="#fff"/>
<rect x="113" y="130" width="2" height="1" fill="#fff"/>
<rect x="119" y="131" width="4" height="3" fill="#fff"/>
<rect x="120" y="134" width="2" height="1" fill="#fff"/>
<rect x="126" y="131" width="4" height="3" fill="#fff"/>
<rect x="127" y="130" width="2" height="1" fill="#fff"/>
<rect x="133" y="131" width="4" height="3" fill="#fff"/>
<rect x="134" y="134" width="2" height="1" fill="#fff"/>
<rect x="37" y="137" width="4" height="3" fill="#fff"/>
<rect x="38" y="136" width="2" height="1" fill="#fff"/>
<rect x="44" y="137" width="4" height="3" fill="#fff"/>
<rect x="45" y="140" width="2" height="1" fill="#fff"/>
<rect x="51" y="137" width="4" height="3" fill="#fff"/>
<rect x="52" y="136" width="2" height="1" fill="#fff"/>
<rect x="58" y="137" width="4" height="3" fill="#fff"/>
<rect x="59" y="140" width="2" height="1" fill="#fff"/>
<rect x="64" y="137" width="4" height="3" fill="#fff"/>
<rect x="65" y="136" width="2" height="1" fill="#fff"/>
<rect x="71" y="137" width="4" height="3" fill="#fff"/>
<rect x="72" y="140" width="2" height="1" fill="#fff"/>
<rect x="78" y="137" width="4" height="3" fill="#fff"/>
<rect x="79" y="136" width="2" height="1" fill="#fff"/>
<rect x="85" y="137" width="4" height="3" fill="#fff"/>
<rect x="86" y="140" width="2" height="1" fill="#fff"/>
<rect x="92" y="137" width="4" height="3" fill="#fff"/>
<rect x="93" y="136" width="2" height="1" fill="#fff"/>
<rect x="99" y="137" width="4" height="3" fill="#fff"/>
<rect x="100" y="140" width="2" height="1" fill="#fff"/>
<rect x="106" y="137" width="4" height="3" fill="#fff"/>
<rect x="107" y="136" width="2" height="1" fill="#fff"/>
<rect x="112" y="137" width="4" height="3" fill="#fff"/>
<rect x="113" y="140" width="2" height="1" fill="#fff"/>
<rect x="119" y="137" width="4" height="3" fill="#fff"/>
<rect x="120" y="136" width="2" height="1" fill="#fff"/>
<rect x="126" y="137" width="4" height="3" fill="#fff"/>
<rect x="127" y="140" width="2" height="1" fill="#fff"/>
<rect x="133" y="137" width="4" height="3" fill="#fff"/>
<rect x="134" y="136" width="2" height="1" fill="#fff"/>
<rect x="37" y="144" width="4" height="3" fill="#fff"/>
<rect x="38" y="147" width="2" height="1" fill="#fff"/>
<rect x="44" y="144" width="4" height="3" fill="#fff"/>
<rect x="45" y="143" width="2" height="1" fill="#fff"/>
<rect x="51" y="144" width="4" height="3" fill="#fff"/>
<rect x="52" y="147" width="2" height="1" fill="#fff"/>
<rect x="119" y="144" width="4" height="3" fill="#fff"/>
<rect x="120" y="147" width="2" height="1" fill="#fff"/>
<rect x="126" y="144" width="4" height="3" fill="#fff"/>
<rect x="127" y="143" width="2" height="1" fill="#fff"/>
<rect x="133" y="144" width="4" height="3" fill="#fff"/>
<rect x="134" y="147" width="2" height="1" fill="#fff"/>
<rect x="37" y="151" width="4" height="3" fill="#fff"/>
<rect x="38" y="150" width="2" height="1" fill="#fff"/>
<rect x="44" y="151" width="4" height="3" fill="#fff"/>
<rect x="45" y="154" width="2" height="1" fill="#fff"/>
<rect x="51" y="151" width="4" height="3" fill="#fff"/>
<rect x="52" y="150" width="2" height="1" fill="#fff"/>
<rect x="119" y="151" width="4" height="3" fill="#fff"/>
<rect x="120" y="150" width="2" height="1" fill="#fff"/>
<rect x="126" y="151" width="4" height="3" fill="#fff"/>
<rect x="127" y="154" width="2" height="1" fill="#fff"/>
<rect x="133" y="151" width="4" height="3" fill="#fff"/>
<rect x="134" y="150" width="2" height="1" fill="#fff"/>
<rect x="37" y="157" width="4" height="3" fill="#fff"/>
<rect x="38" y="160" width="2" height="1" fill="#fff"/>
<rect x="44" y="157" width="4" height="3" fill="#fff"/>
<rect x="45" y="156" width="2" height="1" fill="#fff"/>
<rect x="51" y="157" width="4" height="3" fill="#fff"/>
<rect x="52" y="160" width="2" height="1" fill="#fff"/>
<rect x="119" y="157" width="4" height="3" fill="#fff"/>
<rect x="120" y="160" width="2" height="1" fill="#fff"/>
<rect x="126" y="157" width="4" height="3" fill="#fff"/>
<rect x="127" y="156" width="2" height="1" fill="#fff"/>
<rect x="133" y="157" width="4" height="3" fill="#fff"/>
<rect x="134" y="160" width="2" height="1" fill="#fff"/>
<rect x="37" y="164" width="4" height="3" fill="#fff"/>
<rect x="38" y="163" width="2" height="1" fill="#fff"/>
<rect x="44" y="164" width="4" height="3" fill="#fff"/>
<rect x="45" y="167" width="2" height="1" fill="#fff"/>
<rect x="51" y="164" width="4" height="3" fill="#fff"/>
<rect x="52" y="163" width="2" height="1" fill="#fff"/>
<rect x="119" y="164" width="4" height="3" fill="#fff"/>
<rect x="120" y="163" width="2" height="1" fill="#fff"/>
<rect x="126" y="164" width="4" height="3" fill="#fff"/>
<rect x="127" y="167" width="2" height="1" fill="#fff"/>
<rect x="133" y="164" width="4" height="3" fill="#fff"/>
<rect x="134" y="163" width="2" height="1" fill="#fff"/>
<rect x="37" y="171" width="4" height="3" fill="#fff"/>
<rect x="38" y="174" width="2" height="1" fill="#fff"/>
<rect x="44" y="171" width="4" height="3" fill="#fff"/>
<rect x="45" y="170" width="2" height="1" fill="#fff"/>
<rect x="51" y="171" width="4" height="3" fill="#fff"/>
<rect x="52" y="174" width="2" height="1" fill="#fff"/>
<rect x="119" y="171" width="4" height="3" fill="#fff"/>
<rect x="120" y="174" width="2" height="1" fill="#fff"/>
<rect x="126" y="171" width="4" height="3" fill="#fff"/>
<rect x="127" y="170" width="2" height="1" fill="#fff"/>
<rect x="133" y="171" width="4" height="3" fill="#fff"/>
<rect x="134" y="174" width="2" height="1" fill="#fff"/>
<rect x="37" y="177" width="4" height="3" fill="#fff"/>
<rect x="38" y="176" width="2" height="1" fill="#fff"/>
<rect x="44" y="177" width="4" height="3" fill="#fff"/>
<rect x="45" y="180" width="2" height="1" fill="#fff"/>
<rect x="51" y="177" width="4" height="3" fill="#fff"/>
<rect x="52" y="176" width="2" height="1" fill="#fff"/>
<rect x="119" y="177" width="4" height="3" fill="#fff"/>
<rect x="120" y="176" width="2" height="1" fill="#fff"/>
<rect x="126" y="177" width="4" height="3" fill="#fff"/>
<rect x="127" y="180" width="2" height="1" fill="#fff"/>
<rect x="133" y="177" width="4" height="3" fill="#fff"/>
<rect x="134" y="176" width="2" height="1" fill="#fff"/>
<rect x="37" y="184" width="4" height="3" fill="#fff"/>
<rect x="38" y="187" width="2" height="1" fill="#fff"/>
<rect x="44" y="184" width="4" height="3" fill="#fff"/>
<rect x="45" y="183" width="2" height="1" fill="#fff"/>
<rect x="51" y="184" width="4" height="3" fill="#fff"/>
<rect x="52" y="187" width="2" height="1" fill="#fff"/>
<rect x="119" y="184" width="4" height="3" fill="#fff"/>
<rect x="120" y="187" width="2" height="1" fill="#fff"/>
<rect x="126" y="184" width="4" height="3" fill="#fff"/>
<rect x="127" y="183" width="2" height="1" fill="#fff"/>
<rect x="133" y="184" width="4" height="3" fill="#fff"/>
<rect x="134" y="187" width="2" height="1" fill="#fff"/>
<rect x="37" y="190" width="4" height="3" fill="#fff"/>
<rect x="38" y="189" width="2" height="1" fill="#fff"/>
<rect x="44" y="190" width="4" height="3" fill="#fff"/>
<rect x="45" y="193" width="2" height="1" fill="#fff"/>
<rect x="51" y="190" width="4" height="3" fill="#fff"/>
<rect x="52" y="189" width="2" height="1" fill="#fff"/>
<rect x="119" y="190" width="4" height="3" fill="#fff"/>
<rect x="120" y="189" width="2" height="1" fill="#fff"/>
<rect x="126" y="190" width="4" height="3" fill="#fff"/>
<rect x="127" y="193" width="2" height="1" fill="#fff"/>
<rect x="133" y="190" width="4" height="3" fill="#fff"/>
<rect x="134" y="189" width="2" height="1" fill="#fff"/>
<rect x="37" y="197" width="4" height="3" fill="#fff"/>
<rect x="38" y="200" width="2" height="1" fill="#fff"/>
<rect x="44" y="197" width="4" height="3" fill="#fff"/>
<rect x="45" y="196" width="2" height="1" fill="#fff"/>
<rect x="51" y="197" width="4" height="3" fill="#fff"/>
<rect x="52" y="200" width="2" height="1" fill="#fff"/>
<rect x="119" y="197" width="4" height="3" fill="#fff"/>
<rect x="120" y="200" width="2" height="1" fill="#fff"/>
<rect x="126" y="197" width="4" height="3" fill="#fff"/>
<rect x="127" y="196" width="2" height="1" fill="#fff"/>
<rect x="133" y="197" width="4" height="3" fill="#fff"/>
<rect x="134" y="200" width="2" height="1" fill="#fff"/>
<rect x="37" y="204" width="4" height="3" fill="#fff"/>
<rect x="38" y="203" width="2" height="1" fill="#fff"/>
<rect x="44" y="204" width="4" height="3" fill="#fff"/>
<rect x="45" y="207" width="2" height="1" fill="#fff"/>
<rect x="51" y="204" width="4" height="3" fill="#fff"/>
<rect x="52" y="203" width="2" height="1" fill="#fff"/>
<rect x="58" y="204" width="4" height="3" fill="#fff"/>
<rect x="59" y="207" width="2" height="1" fill="#fff"/>
<rect x="64" y="204" width="4" height="3" fill="#fff"/>
<rect x="65" y="203" width="2" height="1" fill="#fff"/>
<rect x="71" y="204" width="4" height="3" fill="#fff"/>
<rect x="72" y="207" width="2" height="1" fill="#fff"/>
<rect x="78" y="204" width="4" height="3" fill="#fff"/>
<rect x="79" y="203" width="2" height="1" fill="#fff"/>
<rect x="85" y="204" width="4" height="3" fill="#fff"/>
<rect x="86" y="207" width="2" height="1" fill="#fff"/>
<rect x="92" y="204" width="4" height="3" fill="#fff"/>
<rect x="93" y="203" width="2" height="1" fill="#fff"/>
<rect x="99" y="204" width="4" height="3" fill="#fff"/>
<rect x="100" y="207" width="2" height="1" fill="#fff"/>
<rect x="106" y="204" width="4" height="3" fill="#fff"/>
<rect x="107" y="203" width="2" height="1" fill="#fff"/>
<rect x="112" y="204" width="4" height="3" fill="#fff"/>
<rect x="113" y="207" width="2" height="1" fill="#fff"/>
<rect x="119" y="204" width="4" height="3" fill="#fff"/>
<rect x="120" y="203" width="2" height="1" fill="#fff"/>
<rect x="126" y="204" width="4" height="3" fill="#fff"/>
<rect x="127" y="207" width="2" height="1" fill="#fff"/>
<rect x="133" y="204" width="4" height="3" fill="#fff"/>
<rect x="134" y="203" width="2" height="1" fill="#fff"/>
<rect x="37" y="210" width="4" height="3" fill="#fff"/>
<rect x="38" y="213" width="2" height="1" fill="#fff"/>
<rect x="44" y="210" width="4" height="3" fill="#fff"/>
<rect x="45" y="209" width="2" height="1" fill="#fff"/>
<rect x="51" y="210" width="4" height="3" fill="#fff"/>
<rect x="52" y="213" width="2" height="1" fill="#fff"/>
<rect x="58" y="210" width="4" height="3" fill="#fff"/>
<rect x="59" y="209" width="2" height="1" fill="#fff"/>
<rect x="64" y="210" width="4" height="3" fill="#fff"/>
<rect x="65" y="213" width="2" height="1" fill="#fff"/>
<rect x="71" y="210" width="4" height="3" fill="#fff"/>
<rect x="72" y="209" width="2" height="1" fill="#fff"/>
<rect x="78" y="210" width="4" height="3" fill="#fff"/>
<rect x="79" y="213" width="2" height="1" fill="#fff"/>
<rect x="85" y="210" width="4" height="3" fill="#fff"/>
<rect x="86" y="209" width="2" height="1" fill="#fff"/>
<rect x="92" y="210" width="4" height="3" fill="#fff"/>
<rect x="93" y="213" width="2" height="1" fill="#fff"/>
<rect x="99" y="210" width="4" height="3" fill="#fff"/>
<rect x="100" y="209" width="2" height="1" fill="#fff"/>
<rect x="106" y="210" width="4" height="3" fill="#fff"/>
<rect x="107" y="213" width="2" height="1" fill="#fff"/>
<rect x="112" y="210" width="4" height="3" fill="#fff"/>
<rect x="113" y="209" width="2" height="1" fill="#fff"/>
<rect x="119" y="210" width="4" height="3" fill="#fff"/>
<rect x="120" y="213" width="2" height="1" fill="#fff"/>
<rect x="126" y="210" width="4" height="3" fill="#fff"/>
<rect x="127" y="209" width="2" height="1" fill="#fff"/>
<rect x="133" y="210" width="4" height="3" fill="#fff"/>
<rect x="134" y="213" width="2" height="1" fill="#fff"/>
<rect x="37" y="217" width="4" height="3" fill="#fff"/>
<rect x="38" y="216" width="2" height="1" fill="#fff"/>
<rect x="44" y="217" width="4" height="3" fill="#fff"/>
<rect x="45" y="220" width="2" height="1" fill="#fff"/>
<rect x="51" y="217" width="4" height="3" fill="#fff"/>
<rect x="52" y="216" width="2" height="1" fill="#fff"/>
<rect x="58" y="217" width="4" height="3" fill="#fff"/>
<rect x="59" y="220" width="2" height="1" fill="#fff"/>
<rect x="64" y="217" width="4" height="3" fill="#fff"/>
<rect x="65" y="216" width="2" height="1" fill="#fff"/>
<rect x="71" y="217" width="4" height="3" fill="#fff"/>
<rect x="72" y="220" width="2" height="1" fill="#fff"/>
<rect x="78" y="217" width="4" height="3" fill="#fff"/>
<rect x="79" y="216" width="2" height="1" fill="#fff"/>
<rect x="85" y="217" width="4" height="3" fill="#fff"/>
<rect x="86" y="220" width="2" height="1" fill="#fff"/>
<rect x="92" y="217" width="4" height="3" fill="#fff"/>
<rect x="93" y="216" width="2" height="1" fill="#fff"/>
<rect x="99" y="217" width="4" height="3" fill="#fff"/>
<rect x="100" y="220" width="2" height="1" fill="#fff"/>
<rect x="106" y="217" width="4" height="3" fill="#fff"/>
<rect x="107" y="216" width="2" height="1" fill="#fff"/>
<rect x="112" y="217" width="4" height="3" fill="#fff"/>
<rect x="113" y="220" width="2" height="1" fill="#fff"/>
<rect x="119" y="217" width="4" height="3" fill="#fff"/>
<rect x="120" y="216" width="2" height="1" fill="#fff"/>
<rect x="126" y="217" width="4" height="3" fill="#fff"/>
<rect x="127" y="220" width="2" height="1" fill="#fff"/>
<rect x="133" y="217" width="4" height="3" fill="#fff"/>
<rect x="134" y="216" width="2" height="1" fill="#fff"/>
<rect x="70" y="163" width="33" height="19" rx="3" ry="3" fill="#000"/>
<rect x="72" y="166" width="29" height="14" rx="1.2" ry="1.2" fill="#fff"/>
<g filter="url(#bin)" font-family="Liberation Sans" fill="#000"><text font-size="14.53" transform="translate(72.52,0) scale(0.652,1)" x="0" y="179.00">C</text><text font-size="14.53" transform="translate(82.03,0) scale(0.646,1)" x="0" y="179.00">P</text><text font-size="14.53" transform="translate(91.38,0) scale(0.727,1)" x="0" y="179.00">U</text></g>
<rect x="38" y="449" width="94" height="91" fill="#000"/>
<rect x="62" y="472" width="46" height="45" fill="#fff"/>
<rect x="42" y="452" width="4" height="2" fill="#fff"/>
<rect x="43" y="454" width="2" height="1" fill="#fff"/>
<rect x="48" y="453" width="4" height="2" fill="#fff"/>
<rect x="49" y="452" width="2" height="1" fill="#fff"/>
<rect x="54" y="452" width="4" height="2" fill="#fff"/>
<rect x="55" y="454" width="2" height="1" fill="#fff"/>
<rect x="60" y="453" width="4" height="2" fill="#fff"/>
<rect x="61" y="452" width="2" height="1" fill="#fff"/>
<rect x="65" y="452" width="4" height="2" fill="#fff"/>
<rect x="66" y="454" width="2" height="1" fill="#fff"/>
<rect x="71" y="453" width="4" height="2" fill="#fff"/>
<rect x="72" y="452" width="2" height="1" fill="#fff"/>
<rect x="77" y="452" width="4" height="2" fill="#fff"/>
<rect x="78" y="454" width="2" height="1" fill="#fff"/>
<rect x="83" y="453" width="4" height="2" fill="#fff"/>
<rect x="84" y="452" width="2" height="1" fill="#fff"/>
<rect x="89" y="452" width="4" height="2" fill="#fff"/>
<rect x="90" y="454" width="2" height="1" fill="#fff"/>
<rect x="95" y="453" width="4" height="2" fill="#fff"/>
<rect x="96" y="452" width="2" height="1" fill="#fff"/>
<rect x="101" y="452" width="4" height="2" fill="#fff"/>
<rect x="102" y="454" width="2" height="1" fill="#fff"/>
<rect x="106" y="453" width="4" height="2" fill="#fff"/>
<rect x="107" y="452" width="2" height="1" fill="#fff"/>
<rect x="112" y="452" width="4" height="2" fill="#fff"/>
<rect x="113" y="454" width="2" height="1" fill="#fff"/>
<rect x="118" y="453" width="4" height="2" fill="#fff"/>
<rect x="119" y="452" width="2" height="1" fill="#fff"/>
<rect x="124" y="452" width="4" height="2" fill="#fff"/>
<rect x="125" y="454" width="2" height="1" fill="#fff"/>
<rect x="42" y="459" width="4" height="2" fill="#fff"/>
<rect x="43" y="458" width="2" height="1" fill="#fff"/>
<rect x="48" y="458" width="4" height="2" fill="#fff"/>
<rect x="49" y="460" width="2" height="1" fill="#fff"/>
<rect x="54" y="459" width="4" height="2" fill="#fff"/>
<rect x="55" y="458" width="2" height="1" fill="#fff"/>
<rect x="60" y="458" width="4" height="2" fill="#fff"/>
<rect x="61" y="460" width="2" height="1" fill="#fff"/>
<rect x="65" y="459" width="4" height="2" fill="#fff"/>
<rect x="66" y="458" width="2" height="1" fill="#fff"/>
<rect x="71" y="458" width="4" height="2" fill="#fff"/>
<rect x="72" y="460" width="2" height="1" fill="#fff"/>
<rect x="77" y="459" width="4" height="2" fill="#fff"/>
<rect x="78" y="458" width="2" height="1" fill="#fff"/>
<rect x="83" y="458" width="4" height="2" fill="#fff"/>
<rect x="84" y="460" width="2" height="1" fill="#fff"/>
<rect x="89" y="459" width="4" height="2" fill="#fff"/>
<rect x="90" y="458" width="2" height="1" fill="#fff"/>
<rect x="95" y="458" width="4" height="2" fill="#fff"/>
<rect x="96" y="460" width="2" height="1" fill="#fff"/>
<rect x="101" y="459" width="4" height="2" fill="#fff"/>
<rect x="102" y="458" width="2" height="1" fill="#fff"/>
<rect x="106" y="458" width="4" height="2" fill="#fff"/>
<rect x="107" y="460" width="2" height="1" fill="#fff"/>
<rect x="112" y="459" width="4" height="2" fill="#fff"/>
<rect x="113" y="458" width="2" height="1" fill="#fff"/>
<rect x="118" y="458" width="4" height="2" fill="#fff"/>
<rect x="119" y="460" width="2" height="1" fill="#fff"/>
<rect x="124" y="459" width="4" height="2" fill="#fff"/>
<rect x="125" y="458" width="2" height="1" fill="#fff"/>
<rect x="42" y="464" width="4" height="2" fill="#fff"/>
<rect x="43" y="466" width="2" height="1" fill="#fff"/>
<rect x="48" y="465" width="4" height="2" fill="#fff"/>
<rect x="49" y="464" width="2" height="1" fill="#fff"/>
<rect x="54" y="464" width="4" height="2" fill="#fff"/>
<rect x="55" y="466" width="2" height="1" fill="#fff"/>
<rect x="60" y="465" width="4" height="2" fill="#fff"/>
<rect x="61" y="464" width="2" height="1" fill="#fff"/>
<rect x="65" y="464" width="4" height="2" fill="#fff"/>
<rect x="66" y="466" width="2" height="1" fill="#fff"/>
<rect x="71" y="465" width="4" height="2" fill="#fff"/>
<rect x="72" y="464" width="2" height="1" fill="#fff"/>
<rect x="77" y="464" width="4" height="2" fill="#fff"/>
<rect x="78" y="466" width="2" height="1" fill="#fff"/>
<rect x="83" y="465" width="4" height="2" fill="#fff"/>
<rect x="84" y="464" width="2" height="1" fill="#fff"/>
<rect x="89" y="464" width="4" height="2" fill="#fff"/>
<rect x="90" y="466" width="2" height="1" fill="#fff"/>
<rect x="95" y="465" width="4" height="2" fill="#fff"/>
<rect x="96" y="464" width="2" height="1" fill="#fff"/>
<rect x="101" y="464" width="4" height="2" fill="#fff"/>
<rect x="102" y="466" width="2" height="1" fill="#fff"/>
<rect x="106" y="465" width="4" height="2" fill="#fff"/>
<rect x="107" y="464" width="2" height="1" fill="#fff"/>
<rect x="112" y="464" width="4" height="2" fill="#fff"/>
<rect x="113" y="466" width="2" height="1" fill="#fff"/>
<rect x="118" y="465" width="4" height="2" fill="#fff"/>
<rect x="119" y="464" width="2" height="1" fill="#fff"/>
<rect x="124" y="464" width="4" height="2" fill="#fff"/>
<rect x="125" y="466" width="2" height="1" fill="#fff"/>
<rect x="42" y="470" width="4" height="2" fill="#fff"/>
<rect x="43" y="469" width="2" height="1" fill="#fff"/>
<rect x="48" y="469" width="4" height="2" fill="#fff"/>
<rect x="49" y="471" width="2" height="1" fill="#fff"/>
<rect x="54" y="470" width="4" height="2" fill="#fff"/>
<rect x="55" y="469" width="2" height="1" fill="#fff"/>
<rect x="112" y="470" width="4" height="2" fill="#fff"/>
<rect x="113" y="469" width="2" height="1" fill="#fff"/>
<rect x="118" y="469" width="4" height="2" fill="#fff"/>
<rect x="119" y="471" width="2" height="1" fill="#fff"/>
<rect x="124" y="470" width="4" height="2" fill="#fff"/>
<rect x="125" y="469" width="2" height="1" fill="#fff"/>
<rect x="42" y="475" width="4" height="2" fill="#fff"/>
<rect x="43" y="477" width="2" height="1" fill="#fff"/>
<rect x="48" y="476" width="4" height="2" fill="#fff"/>
<rect x="49" y="475" width="2" height="1" fill="#fff"/>
<rect x="54" y="475" width="4" height="2" fill="#fff"/>
<rect x="55" y="477" width="2" height="1" fill="#fff"/>
<rect x="112" y="475" width="4" height="2" fill="#fff"/>
<rect x="113" y="477" width="2" height="1" fill="#fff"/>
<rect x="118" y="476" width="4" height="2" fill="#fff"/>
<rect x="119" y="475" width="2" height="1" fill="#fff"/>
<rect x="124" y="475" width="4" height="2" fill="#fff"/>
<rect x="125" y="477" width="2" height="1" fill="#fff"/>
<rect x="42" y="482" width="4" height="2" fill="#fff"/>
<rect x="43" y="481" width="2" height="1" fill="#fff"/>
<rect x="48" y="481" width="4" height="2" fill="#fff"/>
<rect x="49" y="483" width="2" height="1" fill="#fff"/>
<rect x="54" y="482" width="4" height="2" fill="#fff"/>
<rect x="55" y="481" width="2" height="1" fill="#fff"/>
<rect x="112" y="482" width="4" height="2" fill="#fff"/>
<rect x="113" y="481" width="2" height="1" fill="#fff"/>
<rect x="118" y="481" width="4" height="2" fill="#fff"/>
<rect x="119" y="483" width="2" height="1" fill="#fff"/>
<rect x="124" y="482" width="4" height="2" fill="#fff"/>
<rect x="125" y="481" width="2" height="1" fill="#fff"/>
<rect x="42" y="487" width="4" height="2" fill="#fff"/>
<rect x="43" y="489" width="2" height="1" fill="#fff"/>
<rect x="48" y="488" width="4" height="2" fill="#fff"/>
<rect x="49" y="487" width="2" height="1" fill="#fff"/>
<rect x="54" y="487" width="4" height="2" fill="#fff"/>
<rect x="55" y="489" width="2" height="1" fill="#fff"/>
<rect x="112" y="487" width="4" height="2" fill="#fff"/>
<rect x="113" y="489" width="2" height="1" fill="#fff"/>
<rect x="118" y="488" width="4" height="2" fill="#fff"/>
<rect x="119" y="487" width="2" height="1" fill="#fff"/>
<rect x="124" y="487" width="4" height="2" fill="#fff"/>
<rect x="125" y="489" width="2" height="1" fill="#fff"/>
<rect x="42" y="494" width="4" height="2" fill="#fff"/>
<rect x="43" y="493" width="2" height="1" fill="#fff"/>
<rect x="48" y="493" width="4" height="2" fill="#fff"/>
<rect x="49" y="495" width="2" height="1" fill="#fff"/>
<rect x="54" y="494" width="4" height="2" fill="#fff"/>
<rect x="55" y="493" width="2" height="1" fill="#fff"/>
<rect x="112" y="494" width="4" height="2" fill="#fff"/>
<rect x="113" y="493" width="2" height="1" fill="#fff"/>
<rect x="118" y="493" width="4" height="2" fill="#fff"/>
<rect x="119" y="495" width="2" height="1" fill="#fff"/>
<rect x="124" y="494" width="4" height="2" fill="#fff"/>
<rect x="125" y="493" width="2" height="1" fill="#fff"/>
<rect x="42" y="498" width="4" height="2" fill="#fff"/>
<rect x="43" y="500" width="2" height="1" fill="#fff"/>
<rect x="48" y="499" width="4" height="2" fill="#fff"/>
<rect x="49" y="498" width="2" height="1" fill="#fff"/>
<rect x="54" y="498" width="4" height="2" fill="#fff"/>
<rect x="55" y="500" width="2" height="1" fill="#fff"/>
<rect x="112" y="498" width="4" height="2" fill="#fff"/>
<rect x="113" y="500" width="2" height="1" fill="#fff"/>
<rect x="118" y="499" width="4" height="2" fill="#fff"/>
<rect x="119" y="498" width="2" height="1" fill="#fff"/>
<rect x="124" y="498" width="4" height="2" fill="#fff"/>
<rect x="125" y="500" width="2" height="1" fill="#fff"/>
<rect x="42" y="505" width="4" height="2" fill="#fff"/>
<rect x="43" y="504" width="2" height="1" fill="#fff"/>
<rect x="48" y="504" width="4" height="2" fill="#fff"/>
<rect x="49" y="506" width="2" height="1" fill="#fff"/>
<rect x="54" y="505" width="4" height="2" fill="#fff"/>
<rect x="55" y="504" width="2" height="1" fill="#fff"/>
<rect x="112" y="505" width="4" height="2" fill="#fff"/>
<rect x="113" y="504" width="2" height="1" fill="#fff"/>
<rect x="118" y="504" width="4" height="2" fill="#fff"/>
<rect x="119" y="506" width="2" height="1" fill="#fff"/>
<rect x="124" y="505" width="4" height="2" fill="#fff"/>
<rect x="125" y="504" width="2" height="1" fill="#fff"/>
<rect x="42" y="510" width="4" height="2" fill="#fff"/>
<rect x="43" y="512" width="2" height="1" fill="#fff"/>
<rect x="48" y="511" width="4" height="2" fill="#fff"/>
<rect x="49" y="510" width="2" height="1" fill="#fff"/>
<rect x="54" y="510" width="4" height="2" fill="#fff"/>
<rect x="55" y="512" width="2" height="1" fill="#fff"/>
<rect x="112" y="510" width="4" height="2" fill="#fff"/>
<rect x="113" y="512" width="2" height="1" fill="#fff"/>
<rect x="118" y="511" width="4" height="2" fill="#fff"/>
<rect x="119" y="510" width="2" height="1" fill="#fff"/>
<rect x="124" y="510" width="4" height="2" fill="#fff"/>
<rect x="125" y="512" width="2" height="1" fill="#fff"/>
<rect x="42" y="517" width="4" height="2" fill="#fff"/>
<rect x="43" y="516" width="2" height="1" fill="#fff"/>
<rect x="48" y="516" width="4" height="2" fill="#fff"/>
<rect x="49" y="518" width="2" height="1" fill="#fff"/>
<rect x="54" y="517" width="4" height="2" fill="#fff"/>
<rect x="55" y="516" width="2" height="1" fill="#fff"/>
<rect x="112" y="517" width="4" height="2" fill="#fff"/>
<rect x="113" y="516" width="2" height="1" fill="#fff"/>
<rect x="118" y="516" width="4" height="2" fill="#fff"/>
<rect x="119" y="518" width="2" height="1" fill="#fff"/>
<rect x="124" y="517" width="4" height="2" fill="#fff"/>
<rect x="125" y="516" width="2" height="1" fill="#fff"/>
<rect x="42" y="521" width="4" height="2" fill="#fff"/>
<rect x="43" y="523" width="2" height="1" fill="#fff"/>
<rect x="48" y="522" width="4" height="2" fill="#fff"/>
<rect x="49" y="521" width="2" height="1" fill="#fff"/>
<rect x="54" y="521" width="4" height="2" fill="#fff"/>
<rect x="55" y="523" width="2" height="1" fill="#fff"/>
<rect x="60" y="522" width="4" height="2" fill="#fff"/>
<rect x="61" y="521" width="2" height="1" fill="#fff"/>
<rect x="65" y="521" width="4" height="2" fill="#fff"/>
<rect x="66" y="523" width="2" height="1" fill="#fff"/>
<rect x="71" y="522" width="4" height="2" fill="#fff"/>
<rect x="72" y="521" width="2" height="1" fill="#fff"/>
<rect x="77" y="521" width="4" height="2" fill="#fff"/>
<rect x="78" y="523" width="2" height="1" fill="#fff"/>
<rect x="83" y="522" width="4" height="2" fill="#fff"/>
<rect x="84" y="521" width="2" height="1" fill="#fff"/>
<rect x="89" y="521" width="4" height="2" fill="#fff"/>
<rect x="90" y="523" width="2" height="1" fill="#fff"/>
<rect x="95" y="522" width="4" height="2" fill="#fff"/>
<rect x="96" y="521" width="2" height="1" fill="#fff"/>
<rect x="101" y="521" width="4" height="2" fill="#fff"/>
<rect x="102" y="523" width="2" height="1" fill="#fff"/>
<rect x="106" y="522" width="4" height="2" fill="#fff"/>
<rect x="107" y="521" width="2" height="1" fill="#fff"/>
<rect x="112" y="521" width="4" height="2" fill="#fff"/>
<rect x="113" y="523" width="2" height="1" fill="#fff"/>
<rect x="118" y="522" width="4" height="2" fill="#fff"/>
<rect x="119" y="521" width="2" height="1" fill="#fff"/>
<rect x="124" y="521" width="4" height="2" fill="#fff"/>
<rect x="125" y="523" width="2" height="1" fill="#fff"/>
<rect x="42" y="528" width="4" height="2" fill="#fff"/>
<rect x="43" y="527" width="2" height="1" fill="#fff"/>
<rect x="48" y="527" width="4" height="2" fill="#fff"/>
<rect x="49" y="529" width="2" height="1" fill="#fff"/>
<rect x="54" y="528" width="4" height="2" fill="#fff"/>
<rect x="55" y="527" width="2" height="1" fill="#fff"/>
<rect x="60" y="527" width="4" height="2" fill="#fff"/>
<rect x="61" y="529" width="2" height="1" fill="#fff"/>
<rect x="65" y="528" width="4" height="2" fill="#fff"/>
<rect x="66" y="527" width="2" height="1" fill="#fff"/>
<rect x="71" y="527" width="4" height="2" fill="#fff"/>
<rect x="72" y="529" width="2" height="1" fill="#fff"/>
<rect x="77" y="528" width="4" height="2" fill="#fff"/>
<rect x="78" y="527" width="2" height="1" fill="#fff"/>
<rect x="83" y="527" width="4" height="2" fill="#fff"/>
<rect x="84" y="529" width="2" height="1" fill="#fff"/>
<rect x="89" y="528" width="4" height="2" fill="#fff"/>
<rect x="90" y="527" width="2" height="1" fill="#fff"/>
<rect x="95" y="527" width="4" height="2" fill="#fff"/>
<rect x="96" y="529" width="2" height="1" fill="#fff"/>
<rect x="101" y="528" width="4" height="2" fill="#fff"/>
<rect x="102" y="527" width="2" height="1" fill="#fff"/>
<rect x="106" y="527" width="4" height="2" fill="#fff"/>
<rect x="107" y="529" width="2" height="1" fill="#fff"/>
<rect x="112" y="528" width="4" height="2" fill="#fff"/>
<rect x="113" y="527" width="2" height="1" fill="#fff"/>
<rect x="118" y="527" width="4" height="2" fill="#fff"/>
<rect x="119" y="529" width="2" height="1" fill="#fff"/>
<rect x="124" y="528" width="4" height="2" fill="#fff"/>
<rect x="125" y="527" width="2" height="1" fill="#fff"/>
<rect x="42" y="533" width="4" height="2" fill="#fff"/>
<rect x="43" y="535" width="2" height="1" fill="#fff"/>
<rect x="48" y="534" width="4" height="2" fill="#fff"/>
<rect x="49" y="533" width="2" height="1" fill="#fff"/>
<rect x="54" y="533" width="4" height="2" fill="#fff"/>
<rect x="55" y="535" width="2" height="1" fill="#fff"/>
<rect x="60" y="534" width="4" height="2" fill="#fff"/>
<rect x="61" y="533" width="2" height="1" fill="#fff"/>
<rect x="65" y="533" width="4" height="2" fill="#fff"/>
<rect x="66" y="535" width="2" height="1" fill="#fff"/>
<rect x="71" y="534" width="4" height="2" fill="#fff"/>
<rect x="72" y="533" width="2" height="1" fill="#fff"/>
<rect x="77" y="533" width="4" height="2" fill="#fff"/>
<rect x="78" y="535" width="2" height="1" fill="#fff"/>
<rect x="83" y="534" width="4" height="2" fill="#fff"/>
<rect x="84" y="533" width="2" height="1" fill="#fff"/>
<rect x="89" y="533" width="4" height="2" fill="#fff"/>
<rect x="90" y="535" width="2" height="1" fill="#fff"/>
<rect x="95" y="534" width="4" height="2" fill="#fff"/>
<rect x="96" y="533" width="2" height="1" fill="#fff"/>
<rect x="101" y="533" width="4" height="2" fill="#fff"/>
<rect x="102" y="535" width="2" height="1" fill="#fff"/>
<rect x="106" y="534" width="4" height="2" fill="#fff"/>
<rect x="107" y="533" width="2" height="1" fill="#fff"/>
<rect x="112" y="533" width="4" height="2" fill="#fff"/>
<rect x="113" y="535" width="2" height="1" fill="#fff"/>
<rect x="118" y="534" width="4" height="2" fill="#fff"/>
<rect x="119" y="533" width="2" height="1" fill="#fff"/>
<rect x="124" y="533" width="4" height="2" fill="#fff"/>
<rect x="125" y="535" width="2" height="1" fill="#fff"/>
<rect x="68" y="485" width="33" height="19" rx="3" ry="3" fill="#000"/>
<rect x="71" y="487" width="28" height="15" rx="1.2" ry="1.2" fill="#fff"/>
<g filter="url(#bin)" font-family="Liberation Sans" fill="#000"><text font-size="13.95" transform="translate(71.48,0) scale(0.718,1)" x="0" y="500.60">N</text><text font-size="13.95" transform="translate(81.23,0) scale(0.673,1)" x="0" y="500.60">P</text><text font-size="13.95" transform="translate(90.18,0) scale(0.757,1)" x="0" y="500.60">U</text></g>
<rect x="18" y="216" width="7" height="14" fill="#000"/>
<rect x="19" y="217" width="5" height="1" fill="#fff"/>
<rect x="19" y="222" width="5" height="2" fill="#fff"/>
<rect x="19" y="228" width="5" height="1" fill="#fff"/>
<rect x="39" y="215" width="36" height="18" rx="3" ry="3" fill="#000"/>
<rect x="41" y="217" width="32" height="14" rx="1.2" ry="1.2" fill="#fff"/>
<rect x="35" y="220" width="6" height="6" fill="#000"/>
<rect x="30" y="221" width="5" height="4" fill="#000"/>
<rect x="25" y="222" width="5" height="2" fill="#000"/>
<rect x="35" y="222" width="7" height="2" fill="#fff"/>
<rect x="31" y="223" width="4" height="1" fill="#fff"/>
<g filter="url(#bin)" font-family="Liberation Sans" fill="#000"><text font-size="13.81" transform="translate(42.67,0) scale(0.692,1)" x="0" y="227.90">S</text><text font-family="Liberation Mono" font-size="14.42" transform="translate(51.90,0) scale(0.752,1)" x="0" y="227.90">W</text><text font-size="13.81" transform="translate(62.65,0) scale(0.795,1)" x="0" y="227.90">2</text></g>
<rect x="18" y="236" width="7" height="26" fill="#000"/>
<rect x="19" y="237" width="5" height="1" fill="#fff"/>
<rect x="20" y="239" width="3" height="2" fill="#fff"/>
<rect x="19" y="242" width="5" height="1" fill="#fff"/>
<rect x="19" y="248" width="5" height="1" fill="#fff"/>
<rect x="19" y="254" width="5" height="1" fill="#fff"/>
<rect x="19" y="259" width="5" height="2" fill="#fff"/>
<rect x="39" y="240" width="36" height="18" rx="3" ry="3" fill="#000"/>
<rect x="41" y="242" width="32" height="14" rx="1.2" ry="1.2" fill="#fff"/>
<rect x="35" y="246" width="6" height="6" fill="#000"/>
<rect x="30" y="247" width="5" height="4" fill="#000"/>
<rect x="25" y="248" width="5" height="2" fill="#000"/>
<rect x="35" y="248" width="7" height="2" fill="#fff"/>
<rect x="31" y="249" width="4" height="1" fill="#fff"/>
<g filter="url(#bin)" font-family="Liberation Sans" fill="#000"><text font-size="13.52" transform="translate(45.56,0) scale(0.667,1)" x="0" y="252.50">J</text><text font-size="13.52" transform="translate(51.95,0) scale(0.812,1)" x="0" y="252.50">2</text><text font-size="13.52" transform="translate(59.95,0) scale(0.812,1)" x="0" y="252.50">2</text></g>
<rect x="18" y="267" width="7" height="31" fill="#000"/>
<rect x="19" y="268" width="5" height="1" fill="#fff"/>
<rect x="20" y="270" width="3" height="2" fill="#fff"/>
<rect x="19" y="273" width="5" height="2" fill="#fff"/>
<rect x="19" y="279" width="5" height="2" fill="#fff"/>
<rect x="19" y="285" width="5" height="1" fill="#fff"/>
<rect x="19" y="291" width="5" height="1" fill="#fff"/>
<rect x="39" y="274" width="36" height="18" rx="3" ry="3" fill="#000"/>
<rect x="41" y="276" width="32" height="14" rx="1.2" ry="1.2" fill="#fff"/>
<rect x="35" y="280" width="6" height="6" fill="#000"/>
<rect x="30" y="281" width="5" height="4" fill="#000"/>
<rect x="25" y="282" width="5" height="2" fill="#000"/>
<rect x="35" y="282" width="7" height="2" fill="#fff"/>
<rect x="31" y="283" width="4" height="1" fill="#fff"/>
<g filter="url(#bin)" font-family="Liberation Sans" fill="#000"><text font-size="13.66" transform="translate(44.66,0) scale(0.660,1)" x="0" y="286.90">J</text><text font-size="13.66" transform="translate(51.45,0) scale(0.803,1)" x="0" y="286.90">2</text><text font-size="13.66" transform="translate(59.92,0) scale(0.560,1)" x="0" y="286.90">1</text></g>
<rect x="223" y="194" width="19" height="7" fill="#000"/>
<rect x="224" y="195" width="17" height="1" fill="#fff"/>
<rect x="224" y="195" width="1" height="5" fill="#fff"/>
<rect x="230" y="195" width="1" height="5" fill="#fff"/>
<rect x="235" y="195" width="2" height="5" fill="#fff"/>
<rect x="226" y="197" width="3" height="2" fill="#fff"/>
<rect x="173" y="188" width="36" height="17" rx="3" ry="3" fill="#000"/>
<rect x="175" y="190" width="32" height="13" rx="1.2" ry="1.2" fill="#fff"/>
<rect x="207" y="194" width="6" height="6" fill="#000"/>
<rect x="213" y="195" width="5" height="4" fill="#000"/>
<rect x="218" y="196" width="5" height="2" fill="#000"/>
<rect x="206" y="196" width="7" height="2" fill="#fff"/>
<rect x="213" y="197" width="4" height="1" fill="#fff"/>
<g filter="url(#bin)" font-family="Liberation Sans" fill="#000"><text font-size="13.66" transform="translate(178.56,0) scale(0.660,1)" x="0" y="200.70">J</text><text font-size="13.66" transform="translate(185.73,0) scale(0.688,1)" x="0" y="200.70">P</text><text font-size="13.66" transform="translate(194.45,0) scale(0.793,1)" x="0" y="200.70">6</text></g>
<rect x="192" y="294" width="7" height="14" fill="#000"/>
<rect x="193" y="295" width="5" height="12" fill="#fff"/>
<rect x="194" y="296" width="5" height="4" fill="#000"/>
<rect x="194" y="302" width="5" height="4" fill="#000"/>
<rect x="141" y="292" width="36" height="19" rx="3" ry="3" fill="#000"/>
<rect x="144" y="295" width="31" height="14" rx="1.2" ry="1.2" fill="#fff"/>
<rect x="175" y="298" width="6" height="6" fill="#000"/>
<rect x="181" y="299" width="6" height="4" fill="#000"/>
<rect x="187" y="300" width="5" height="2" fill="#000"/>
<rect x="174" y="300" width="7" height="2" fill="#fff"/>
<rect x="181" y="301" width="5" height="1" fill="#fff"/>
<g filter="url(#bin)" font-family="Liberation Sans" fill="#000"><text font-size="13.66" transform="translate(146.76,0) scale(0.660,1)" x="0" y="305.30">J</text><text font-size="13.66" transform="translate(154.03,0) scale(0.688,1)" x="0" y="305.30">P</text><text font-size="13.66" transform="translate(161.94,0) scale(0.805,1)" x="0" y="305.30">7</text></g>
<rect x="232" y="305" width="14" height="7" fill="#000"/>
<rect x="233" y="306" width="12" height="5" fill="#fff"/>
<rect x="234" y="307" width="4" height="4" fill="#000"/>
<rect x="240" y="307" width="4" height="4" fill="#000"/>
<rect x="223" y="271" width="34" height="19" rx="3" ry="3" fill="#000"/>
<rect x="225" y="273" width="30" height="15" rx="1.2" ry="1.2" fill="#fff"/>
<rect x="236" y="288" width="6" height="6" fill="#000"/>
<rect x="237" y="294" width="4" height="6" fill="#000"/>
<rect x="238" y="300" width="2" height="5" fill="#000"/>
<rect x="238" y="287" width="2" height="7" fill="#fff"/>
<rect x="239" y="294" width="1" height="5" fill="#fff"/>
<g filter="url(#bin)" font-family="Liberation Sans" fill="#000"><text font-size="14.53" transform="translate(227.86,0) scale(0.621,1)" x="0" y="285.00">J</text><text font-size="14.53" transform="translate(235.23,0) scale(0.646,1)" x="0" y="285.00">P</text><text font-size="14.53" transform="translate(243.27,0) scale(0.683,1)" x="0" y="285.00">4</text></g>
<rect x="189" y="398" width="7" height="14" fill="#000"/>
<rect x="190" y="399" width="5" height="12" fill="#fff"/>
<rect x="191" y="400" width="5" height="4" fill="#000"/>
<rect x="191" y="406" width="5" height="4" fill="#000"/>
<rect x="211" y="396" width="35" height="19" rx="3" ry="3" fill="#000"/>
<rect x="213" y="399" width="31" height="14" rx="1.2" ry="1.2" fill="#fff"/>
<rect x="207" y="402" width="6" height="6" fill="#000"/>
<rect x="201" y="403" width="6" height="4" fill="#000"/>
<rect x="196" y="404" width="5" height="2" fill="#000"/>
<rect x="207" y="404" width="7" height="2" fill="#fff"/>
<rect x="202" y="405" width="5" height="1" fill="#fff"/>
<g filter="url(#bin)" font-family="Liberation Sans" fill="#000"><text font-size="13.37" transform="translate(215.56,0) scale(0.675,1)" x="0" y="408.90">J</text><text font-size="13.37" transform="translate(222.93,0) scale(0.703,1)" x="0" y="408.90">P</text><text font-size="13.37" transform="translate(231.08,0) scale(0.789,1)" x="0" y="408.90">5</text></g>
<rect x="218" y="440" width="19" height="7" fill="#000"/>
<rect x="219" y="441" width="17" height="1" fill="#fff"/>
<rect x="219" y="441" width="1" height="5" fill="#fff"/>
<rect x="225" y="441" width="1" height="5" fill="#fff"/>
<rect x="230" y="441" width="2" height="5" fill="#fff"/>
<rect x="221" y="443" width="3" height="2" fill="#fff"/>
<rect x="252" y="434" width="36" height="19" rx="3" ry="3" fill="#000"/>
<rect x="254" y="437" width="31" height="14" rx="1.2" ry="1.2" fill="#fff"/>
<rect x="248" y="440" width="6" height="6" fill="#000"/>
<rect x="242" y="441" width="6" height="4" fill="#000"/>
<rect x="237" y="442" width="5" height="2" fill="#000"/>
<rect x="248" y="442" width="7" height="2" fill="#fff"/>
<rect x="243" y="443" width="5" height="1" fill="#fff"/>
<g filter="url(#bin)" font-family="Liberation Sans" fill="#000"><text font-size="13.81" transform="translate(257.66,0) scale(0.653,1)" x="0" y="447.80">J</text><text font-size="13.81" transform="translate(264.93,0) scale(0.680,1)" x="0" y="447.80">P</text><text font-size="13.81" transform="translate(273.10,0) scale(0.764,1)" x="0" y="447.80">3</text></g>
<rect x="662" y="174" width="7" height="14" fill="#000"/>
<rect x="663" y="175" width="5" height="12" fill="#fff"/>
<rect x="664" y="176" width="5" height="4" fill="#000"/>
<rect x="664" y="182" width="5" height="4" fill="#000"/>
<rect x="612" y="172" width="36" height="17" rx="3" ry="3" fill="#000"/>
<rect x="614" y="174" width="32" height="13" rx="1.2" ry="1.2" fill="#fff"/>
<rect x="646" y="178" width="6" height="6" fill="#000"/>
<rect x="652" y="179" width="5" height="4" fill="#000"/>
<rect x="657" y="180" width="5" height="2" fill="#000"/>
<rect x="645" y="180" width="7" height="2" fill="#fff"/>
<rect x="652" y="181" width="4" height="1" fill="#fff"/>
<g filter="url(#bin)" font-family="Liberation Sans" fill="#000"><text font-size="14.53" transform="translate(619.56,0) scale(0.621,1)" x="0" y="185.00">J</text><text font-size="14.53" transform="translate(627.23,0) scale(0.646,1)" x="0" y="185.00">P</text><text font-size="14.53" transform="translate(634.92,0) scale(0.527,1)" x="0" y="185.00">1</text></g>
<rect x="663" y="216" width="7" height="26" fill="#000"/>
<rect x="664" y="217" width="5" height="1" fill="#fff"/>
<rect x="665" y="219" width="3" height="3" fill="#fff"/>
<rect x="664" y="223" width="5" height="1" fill="#fff"/>
<rect x="664" y="228" width="5" height="2" fill="#fff"/>
<rect x="664" y="234" width="5" height="1" fill="#fff"/>
<rect x="664" y="240" width="5" height="1" fill="#fff"/>
<rect x="623" y="215" width="26" height="19" rx="3" ry="3" fill="#000"/>
<rect x="625" y="218" width="22" height="14" rx="1.2" ry="1.2" fill="#fff"/>
<rect x="647" y="221" width="6" height="6" fill="#000"/>
<rect x="653" y="222" width="5" height="4" fill="#000"/>
<rect x="658" y="223" width="5" height="2" fill="#000"/>
<rect x="646" y="223" width="7" height="2" fill="#fff"/>
<rect x="653" y="224" width="4" height="1" fill="#fff"/>
<g filter="url(#bin)" font-family="Liberation Sans" fill="#000"><text font-size="12.79" transform="translate(628.86,0) scale(0.705,1)" x="0" y="227.80">J</text><text font-size="12.79" transform="translate(635.87,0) scale(0.776,1)" x="0" y="227.80">4</text></g>
<g filter="url(#bin)" font-family="Liberation Sans" fill="#000"><text font-family="Liberation Mono" font-size="13.36" transform="translate(520.90,0) scale(0.948,1)" x="0" y="48.80">M</text><text font-size="12.79" transform="translate(530.15,0) scale(0.714,1)" x="0" y="48.80">H</text><text font-size="12.79" transform="translate(538.48,0) scale(0.807,1)" x="0" y="48.80">2</text><text font-size="12.79" transform="translate(545.29,0) scale(0.841,1)" x="0" y="48.80">3</text><text font-size="12.79" transform="translate(551.96,0) scale(0.653,1)" x="0" y="48.80">1</text><text font-size="12.79" transform="translate(558.48,0) scale(0.791,1)" x="0" y="48.80">7</text></g>
<polygon points="677,348 681,348 681,398 677,398 677,396 674,396 674,392 650,392 650,385 647,385 647,361 650,361 650,355 674,355 674,350 677,350" fill="#000"/>
<rect x="643" y="363" width="5" height="9" fill="#000"/>
<rect x="644" y="364" width="3" height="7" fill="#fff"/>
<rect x="643" y="374" width="5" height="9" fill="#000"/>
<rect x="644" y="375" width="3" height="7" fill="#fff"/>
<rect x="648" y="371" width="2" height="5" fill="#fff"/>
<rect x="644" y="401" width="24" height="113" fill="#000"/>
<rect x="645" y="402" width="22" height="111" fill="#fff"/>
<rect x="646" y="402" width="1" height="2" fill="#000"/>
<rect x="652" y="402" width="1" height="2" fill="#000"/>
<rect x="646" y="403" width="9" height="1" fill="#000"/>
<rect x="646" y="511" width="1" height="2" fill="#000"/>
<rect x="652" y="511" width="1" height="2" fill="#000"/>
<rect x="646" y="511" width="9" height="1" fill="#000"/>
<rect x="647" y="407" width="8" height="8" fill="#000"/>
<rect x="648" y="408" width="6" height="6" fill="#fff"/>
<rect x="647" y="416" width="8" height="8" fill="#000"/>
<rect x="648" y="417" width="6" height="6" fill="#fff"/>
<rect x="647" y="426" width="8" height="8" fill="#000"/>
<rect x="648" y="427" width="6" height="6" fill="#fff"/>
<rect x="647" y="435" width="8" height="8" fill="#000"/>
<rect x="648" y="436" width="6" height="6" fill="#fff"/>
<rect x="647" y="445" width="8" height="8" fill="#000"/>
<rect x="648" y="446" width="6" height="6" fill="#fff"/>
<rect x="647" y="454" width="8" height="8" fill="#000"/>
<rect x="648" y="455" width="6" height="6" fill="#fff"/>
<rect x="647" y="463" width="8" height="8" fill="#000"/>
<rect x="648" y="464" width="6" height="6" fill="#fff"/>
<rect x="647" y="473" width="8" height="8" fill="#000"/>
<rect x="648" y="474" width="6" height="6" fill="#fff"/>
<rect x="647" y="482" width="8" height="8" fill="#000"/>
<rect x="648" y="483" width="6" height="6" fill="#fff"/>
<rect x="647" y="492" width="8" height="8" fill="#000"/>
<rect x="648" y="493" width="6" height="6" fill="#fff"/>
<rect x="647" y="501" width="8" height="8" fill="#000"/>
<rect x="648" y="502" width="6" height="6" fill="#fff"/>
<rect x="656" y="403" width="2" height="6" fill="#000"/>
<rect x="656" y="412" width="2" height="6" fill="#000"/>
<rect x="656" y="421" width="2" height="6" fill="#000"/>
<rect x="656" y="431" width="2" height="6" fill="#000"/>
<rect x="656" y="440" width="2" height="6" fill="#000"/>
<rect x="656" y="449" width="2" height="6" fill="#000"/>
<rect x="656" y="458" width="2" height="6" fill="#000"/>
<rect x="656" y="467" width="2" height="6" fill="#000"/>
<rect x="656" y="477" width="2" height="6" fill="#000"/>
<rect x="656" y="486" width="2" height="6" fill="#000"/>
<rect x="656" y="495" width="2" height="6" fill="#000"/>
<rect x="656" y="504" width="2" height="6" fill="#000"/>
<rect x="660" y="403" width="2" height="108" fill="#000"/>
<rect x="662" y="404" width="3" height="7" fill="#000"/>
<rect x="663" y="405" width="1" height="5" fill="#fff"/>
<rect x="662" y="413" width="3" height="7" fill="#000"/>
<rect x="663" y="414" width="1" height="5" fill="#fff"/>
<rect x="662" y="422" width="3" height="7" fill="#000"/>
<rect x="663" y="423" width="1" height="5" fill="#fff"/>
<rect x="662" y="432" width="3" height="7" fill="#000"/>
<rect x="663" y="433" width="1" height="5" fill="#fff"/>
<rect x="662" y="441" width="3" height="7" fill="#000"/>
<rect x="663" y="442" width="1" height="5" fill="#fff"/>
<rect x="662" y="450" width="3" height="7" fill="#000"/>
<rect x="663" y="451" width="1" height="5" fill="#fff"/>
<rect x="662" y="459" width="3" height="7" fill="#000"/>
<rect x="663" y="460" width="1" height="5" fill="#fff"/>
<rect x="662" y="468" width="3" height="7" fill="#000"/>
<rect x="663" y="469" width="1" height="5" fill="#fff"/>
<rect x="662" y="478" width="3" height="7" fill="#000"/>
<rect x="663" y="479" width="1" height="5" fill="#fff"/>
<rect x="662" y="487" width="3" height="7" fill="#000"/>
<rect x="663" y="488" width="1" height="5" fill="#fff"/>
<rect x="662" y="496" width="3" height="7" fill="#000"/>
<rect x="663" y="497" width="1" height="5" fill="#fff"/>
<rect x="662" y="505" width="3" height="7" fill="#000"/>
<rect x="663" y="506" width="1" height="5" fill="#fff"/>
<rect x="545" y="598" width="127" height="42" fill="#000"/>
<rect x="670" y="613" width="2" height="12" fill="#fff"/>
<rect x="594" y="612" width="28" height="14" fill="#fff"/>
<g filter="url(#bin)" font-family="Liberation Sans" fill="#000"><text font-size="14.53" transform="translate(595.37,0) scale(0.696,1)" x="0" y="622.00">K</text><text font-size="14.53" transform="translate(604.70,0) scale(0.672,1)" x="0" y="622.00">B</text><text font-size="14.53" transform="translate(613.74,0) scale(0.639,1)" x="0" y="622.00">D</text></g>
<rect x="593" y="586" width="13" height="7" fill="#000"/>
<rect x="599" y="587" width="1" height="5" fill="#fff"/>
<rect x="604" y="587" width="1" height="5" fill="#fff"/>
<rect x="542" y="580" width="36" height="19" rx="3" ry="3" fill="#000"/>
<rect x="544" y="582" width="32" height="15" rx="1.2" ry="1.2" fill="#fff"/>
<rect x="576" y="586" width="6" height="6" fill="#000"/>
<rect x="582" y="587" width="6" height="4" fill="#000"/>
<rect x="588" y="588" width="5" height="2" fill="#000"/>
<rect x="575" y="588" width="7" height="2" fill="#fff"/>
<rect x="582" y="589" width="5" height="1" fill="#fff"/>
<g filter="url(#bin)" font-family="Liberation Sans" fill="#000"><text font-size="14.24" transform="translate(548.66,0) scale(0.633,1)" x="0" y="594.00">J</text><text font-size="14.24" transform="translate(556.63,0) scale(0.660,1)" x="0" y="594.00">P</text><text font-size="14.24" transform="translate(563.85,0) scale(0.771,1)" x="0" y="594.00">2</text></g>
</svg>
</body></html>
